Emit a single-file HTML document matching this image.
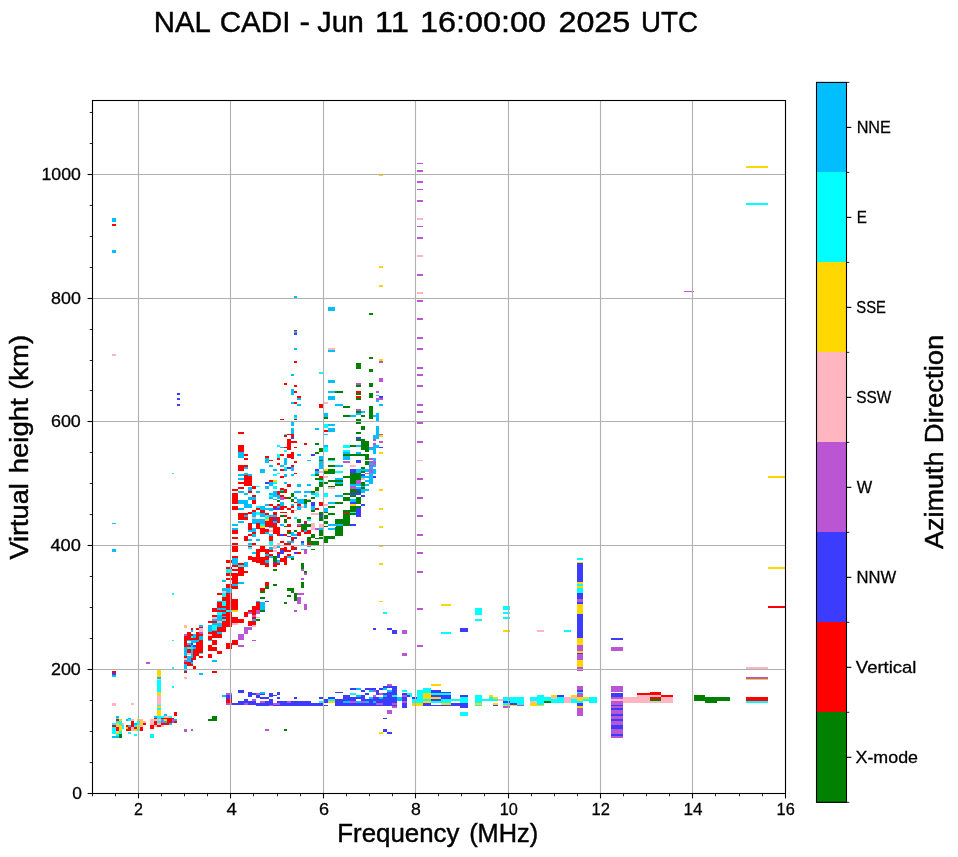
<!DOCTYPE html><html><head><meta charset="utf-8"><title>NAL CADI</title><style>html,body{margin:0;padding:0;background:#fff}svg{display:block}text{font-family:"Liberation Sans",sans-serif;fill:#000}</style></head><body>
<svg width="958" height="857" viewBox="0 0 958 857">
<rect width="958" height="857" fill="#fff"/>
<g shape-rendering="crispEdges">
<rect x="112" y="218" width="4" height="4" fill="#00bfff"/>
<rect x="112" y="224" width="4" height="2" fill="#ff0000"/>
<rect x="112" y="250" width="4" height="3" fill="#00bfff"/>
<rect x="112" y="354" width="4" height="2" fill="#ffb6c1"/>
<rect x="177" y="393" width="3" height="2" fill="#3c3cff"/>
<rect x="177" y="398" width="3" height="2" fill="#3c3cff"/>
<rect x="177" y="404" width="3" height="2" fill="#3c3cff"/>
<rect x="238" y="432" width="6" height="2" fill="#ff0000"/>
<rect x="112" y="523" width="4" height="1" fill="#00bfff"/>
<rect x="112" y="549" width="4" height="3" fill="#00bfff"/>
<rect x="172" y="473" width="2" height="1" fill="#00ffff"/>
<rect x="238" y="432" width="6" height="2" fill="#ff0000"/>
<rect x="238" y="445" width="6" height="7" fill="#ff0000"/>
<rect x="238" y="452" width="6" height="6" fill="#00bfff"/>
<rect x="238" y="465" width="6" height="6" fill="#ff0000"/>
<rect x="238" y="474" width="6" height="2" fill="#00bfff"/>
<rect x="238" y="478" width="6" height="2" fill="#00bfff"/>
<rect x="238" y="482" width="6" height="2" fill="#ff0000"/>
<rect x="238" y="487" width="6" height="2" fill="#ff0000"/>
<rect x="238" y="491" width="6" height="2" fill="#00bfff"/>
<rect x="238" y="500" width="6" height="4" fill="#00bfff"/>
<rect x="238" y="508" width="6" height="2" fill="#00bfff"/>
<rect x="238" y="513" width="6" height="7" fill="#ff0000"/>
<rect x="238" y="521" width="6" height="2" fill="#00bfff"/>
<rect x="232" y="489" width="6" height="2" fill="#ff0000"/>
<rect x="232" y="493" width="6" height="11" fill="#ff0000"/>
<rect x="232" y="506" width="6" height="4" fill="#ff0000"/>
<rect x="232" y="524" width="6" height="2" fill="#00bfff"/>
<rect x="244" y="454" width="4" height="2" fill="#ff0000"/>
<rect x="244" y="458" width="4" height="2" fill="#ff0000"/>
<rect x="244" y="465" width="4" height="2" fill="#ff0000"/>
<rect x="244" y="467" width="4" height="2" fill="#00bfff"/>
<rect x="244" y="473" width="4" height="2" fill="#00bfff"/>
<rect x="244" y="475" width="4" height="11" fill="#ff0000"/>
<rect x="244" y="493" width="4" height="2" fill="#00bfff"/>
<rect x="244" y="500" width="4" height="8" fill="#00bfff"/>
<rect x="244" y="513" width="4" height="2" fill="#ff0000"/>
<rect x="244" y="515" width="4" height="2" fill="#00bfff"/>
<rect x="244" y="517" width="4" height="3" fill="#ff0000"/>
<rect x="248" y="474" width="4" height="2" fill="#00bfff"/>
<rect x="248" y="476" width="4" height="10" fill="#ff0000"/>
<rect x="248" y="487" width="4" height="4" fill="#00bfff"/>
<rect x="248" y="491" width="4" height="2" fill="#ff0000"/>
<rect x="248" y="497" width="4" height="3" fill="#00bfff"/>
<rect x="248" y="504" width="4" height="4" fill="#00bfff"/>
<rect x="248" y="512" width="4" height="2" fill="#ff0000"/>
<rect x="248" y="523" width="4" height="4" fill="#ff0000"/>
<rect x="252" y="486" width="4" height="3" fill="#ff0000"/>
<rect x="252" y="495" width="4" height="2" fill="#ff0000"/>
<rect x="252" y="497" width="4" height="3" fill="#00bfff"/>
<rect x="252" y="500" width="4" height="4" fill="#ff0000"/>
<rect x="252" y="510" width="4" height="2" fill="#ff0000"/>
<rect x="252" y="512" width="4" height="5" fill="#00bfff"/>
<rect x="252" y="517" width="4" height="2" fill="#ffb6c1"/>
<rect x="252" y="519" width="4" height="5" fill="#00bfff"/>
<rect x="256" y="486" width="4" height="1" fill="#00ffff"/>
<rect x="256" y="491" width="4" height="2" fill="#00bfff"/>
<rect x="256" y="506" width="4" height="2" fill="#00ffff"/>
<rect x="256" y="508" width="4" height="2" fill="#ff0000"/>
<rect x="256" y="512" width="4" height="3" fill="#00ffff"/>
<rect x="256" y="519" width="4" height="4" fill="#00bfff"/>
<rect x="256" y="523" width="4" height="4" fill="#ff0000"/>
<rect x="260" y="469" width="5" height="4" fill="#00bfff"/>
<rect x="260" y="506" width="5" height="4" fill="#00bfff"/>
<rect x="260" y="510" width="5" height="3" fill="#ff0000"/>
<rect x="260" y="513" width="5" height="4" fill="#00bfff"/>
<rect x="260" y="519" width="5" height="5" fill="#00bfff"/>
<rect x="260" y="524" width="5" height="2" fill="#00ffff"/>
<rect x="260" y="526" width="5" height="1" fill="#ffd700"/>
<rect x="265" y="456" width="4" height="2" fill="#ff0000"/>
<rect x="265" y="458" width="4" height="5" fill="#00bfff"/>
<rect x="265" y="482" width="4" height="2" fill="#3c3cff"/>
<rect x="265" y="486" width="4" height="3" fill="#00bfff"/>
<rect x="265" y="504" width="4" height="2" fill="#00bfff"/>
<rect x="265" y="508" width="4" height="2" fill="#00bfff"/>
<rect x="265" y="513" width="4" height="2" fill="#ff0000"/>
<rect x="265" y="515" width="4" height="4" fill="#00ffff"/>
<rect x="265" y="519" width="4" height="2" fill="#ffd700"/>
<rect x="265" y="521" width="4" height="6" fill="#ff0000"/>
<rect x="269" y="460" width="4" height="1" fill="#ff0000"/>
<rect x="269" y="465" width="4" height="2" fill="#00bfff"/>
<rect x="269" y="480" width="4" height="2" fill="#ff0000"/>
<rect x="269" y="482" width="4" height="4" fill="#00bfff"/>
<rect x="269" y="493" width="4" height="2" fill="#00bfff"/>
<rect x="269" y="495" width="4" height="2" fill="#00ffff"/>
<rect x="269" y="497" width="4" height="2" fill="#00bfff"/>
<rect x="269" y="504" width="4" height="2" fill="#ff0000"/>
<rect x="269" y="508" width="4" height="3" fill="#00bfff"/>
<rect x="269" y="515" width="4" height="2" fill="#00bfff"/>
<rect x="269" y="517" width="4" height="10" fill="#ff0000"/>
<rect x="273" y="469" width="4" height="2" fill="#00bfff"/>
<rect x="273" y="474" width="4" height="2" fill="#00ffff"/>
<rect x="273" y="480" width="4" height="2" fill="#ffd700"/>
<rect x="273" y="482" width="4" height="2" fill="#00ffff"/>
<rect x="273" y="486" width="4" height="3" fill="#00ffff"/>
<rect x="273" y="491" width="4" height="6" fill="#00bfff"/>
<rect x="273" y="499" width="4" height="1" fill="#00bfff"/>
<rect x="273" y="506" width="4" height="2" fill="#ff0000"/>
<rect x="273" y="508" width="4" height="2" fill="#3c3cff"/>
<rect x="273" y="512" width="4" height="3" fill="#ff0000"/>
<rect x="273" y="515" width="4" height="2" fill="#00bfff"/>
<rect x="273" y="517" width="4" height="2" fill="#ff0000"/>
<rect x="273" y="519" width="4" height="2" fill="#3c3cff"/>
<rect x="273" y="521" width="4" height="2" fill="#00bfff"/>
<rect x="273" y="523" width="4" height="4" fill="#ff0000"/>
<rect x="277" y="445" width="3" height="2" fill="#00ffff"/>
<rect x="277" y="454" width="3" height="4" fill="#00ffff"/>
<rect x="277" y="458" width="3" height="2" fill="#ff0000"/>
<rect x="277" y="463" width="3" height="2" fill="#ff0000"/>
<rect x="277" y="473" width="3" height="1" fill="#00ffff"/>
<rect x="277" y="491" width="3" height="4" fill="#ff0000"/>
<rect x="277" y="495" width="3" height="4" fill="#00bfff"/>
<rect x="277" y="500" width="3" height="2" fill="#008000"/>
<rect x="277" y="504" width="3" height="2" fill="#ff0000"/>
<rect x="277" y="506" width="3" height="2" fill="#00bfff"/>
<rect x="277" y="508" width="3" height="2" fill="#3c3cff"/>
<rect x="277" y="517" width="3" height="6" fill="#ff0000"/>
<rect x="280" y="447" width="4" height="1" fill="#00bfff"/>
<rect x="280" y="454" width="4" height="2" fill="#ff0000"/>
<rect x="280" y="465" width="4" height="2" fill="#00bfff"/>
<rect x="280" y="469" width="4" height="2" fill="#ff0000"/>
<rect x="280" y="476" width="4" height="2" fill="#ff0000"/>
<rect x="280" y="488" width="4" height="2" fill="#ff0000"/>
<rect x="280" y="490" width="4" height="1" fill="#00bfff"/>
<rect x="280" y="491" width="4" height="2" fill="#008000"/>
<rect x="280" y="495" width="4" height="2" fill="#ff0000"/>
<rect x="280" y="497" width="4" height="3" fill="#ba55d3"/>
<rect x="280" y="502" width="4" height="4" fill="#00bfff"/>
<rect x="280" y="506" width="4" height="4" fill="#ff0000"/>
<rect x="280" y="512" width="4" height="1" fill="#ff0000"/>
<rect x="280" y="515" width="4" height="2" fill="#008000"/>
<rect x="280" y="524" width="4" height="2" fill="#00bfff"/>
<rect x="284" y="434" width="3" height="1" fill="#00ffff"/>
<rect x="284" y="435" width="3" height="2" fill="#ff0000"/>
<rect x="284" y="447" width="3" height="1" fill="#ff0000"/>
<rect x="284" y="450" width="3" height="2" fill="#00ffff"/>
<rect x="284" y="458" width="3" height="7" fill="#00bfff"/>
<rect x="284" y="467" width="3" height="2" fill="#00ffff"/>
<rect x="284" y="469" width="3" height="2" fill="#00bfff"/>
<rect x="284" y="474" width="3" height="3" fill="#00bfff"/>
<rect x="284" y="482" width="3" height="2" fill="#00bfff"/>
<rect x="284" y="489" width="3" height="4" fill="#ff0000"/>
<rect x="284" y="497" width="3" height="2" fill="#ff0000"/>
<rect x="284" y="506" width="3" height="2" fill="#ff0000"/>
<rect x="284" y="512" width="3" height="1" fill="#ff0000"/>
<rect x="284" y="515" width="3" height="2" fill="#ff0000"/>
<rect x="284" y="519" width="3" height="4" fill="#008000"/>
<rect x="284" y="526" width="3" height="1" fill="#008000"/>
<rect x="287" y="434" width="4" height="1" fill="#ff0000"/>
<rect x="287" y="439" width="4" height="11" fill="#ff0000"/>
<rect x="287" y="454" width="4" height="4" fill="#ff0000"/>
<rect x="287" y="467" width="4" height="2" fill="#3c3cff"/>
<rect x="287" y="484" width="4" height="3" fill="#ff0000"/>
<rect x="287" y="497" width="4" height="2" fill="#008000"/>
<rect x="287" y="508" width="4" height="2" fill="#ff0000"/>
<rect x="287" y="517" width="4" height="2" fill="#ff0000"/>
<rect x="287" y="524" width="4" height="3" fill="#ff0000"/>
<rect x="291" y="422" width="3" height="4" fill="#00bfff"/>
<rect x="291" y="428" width="3" height="6" fill="#00bfff"/>
<rect x="291" y="434" width="3" height="3" fill="#ff0000"/>
<rect x="291" y="437" width="3" height="2" fill="#3c3cff"/>
<rect x="291" y="441" width="3" height="2" fill="#ff0000"/>
<rect x="291" y="452" width="3" height="7" fill="#ff0000"/>
<rect x="291" y="465" width="3" height="2" fill="#ff0000"/>
<rect x="291" y="467" width="3" height="4" fill="#00bfff"/>
<rect x="291" y="474" width="3" height="2" fill="#00bfff"/>
<rect x="291" y="493" width="3" height="4" fill="#008000"/>
<rect x="291" y="499" width="3" height="3" fill="#008000"/>
<rect x="291" y="504" width="3" height="2" fill="#00bfff"/>
<rect x="291" y="506" width="3" height="2" fill="#ff0000"/>
<rect x="291" y="510" width="3" height="3" fill="#ff0000"/>
<rect x="294" y="441" width="3" height="2" fill="#ff0000"/>
<rect x="294" y="447" width="3" height="1" fill="#ff0000"/>
<rect x="294" y="461" width="3" height="2" fill="#ff0000"/>
<rect x="294" y="473" width="3" height="1" fill="#ff0000"/>
<rect x="294" y="491" width="3" height="2" fill="#00bfff"/>
<rect x="294" y="497" width="3" height="2" fill="#00bfff"/>
<rect x="294" y="502" width="3" height="1" fill="#ff0000"/>
<rect x="294" y="510" width="3" height="1" fill="#ffb6c1"/>
<rect x="294" y="517" width="3" height="2" fill="#00ffff"/>
<rect x="297" y="454" width="4" height="2" fill="#00bfff"/>
<rect x="297" y="484" width="4" height="3" fill="#00bfff"/>
<rect x="297" y="491" width="4" height="2" fill="#00bfff"/>
<rect x="297" y="499" width="4" height="5" fill="#00bfff"/>
<rect x="297" y="504" width="4" height="2" fill="#ff0000"/>
<rect x="297" y="506" width="4" height="4" fill="#00bfff"/>
<rect x="297" y="519" width="4" height="4" fill="#008000"/>
<rect x="297" y="524" width="4" height="2" fill="#ba55d3"/>
<rect x="297" y="526" width="4" height="1" fill="#ff0000"/>
<rect x="301" y="499" width="3" height="5" fill="#00bfff"/>
<rect x="301" y="506" width="3" height="2" fill="#ffb6c1"/>
<rect x="301" y="524" width="3" height="3" fill="#008000"/>
<rect x="304" y="443" width="3" height="2" fill="#ff0000"/>
<rect x="304" y="491" width="3" height="2" fill="#00bfff"/>
<rect x="304" y="495" width="3" height="2" fill="#00bfff"/>
<rect x="304" y="499" width="3" height="5" fill="#008000"/>
<rect x="304" y="504" width="3" height="4" fill="#00bfff"/>
<rect x="304" y="521" width="3" height="2" fill="#ff0000"/>
<rect x="304" y="523" width="3" height="1" fill="#3c3cff"/>
<rect x="304" y="524" width="3" height="3" fill="#008000"/>
<rect x="307" y="460" width="4" height="1" fill="#00bfff"/>
<rect x="307" y="484" width="4" height="2" fill="#00bfff"/>
<rect x="307" y="491" width="4" height="2" fill="#00bfff"/>
<rect x="307" y="499" width="4" height="1" fill="#ffb6c1"/>
<rect x="307" y="500" width="4" height="2" fill="#008000"/>
<rect x="307" y="517" width="4" height="2" fill="#008000"/>
<rect x="307" y="519" width="4" height="2" fill="#00ffff"/>
<rect x="307" y="524" width="4" height="3" fill="#008000"/>
<rect x="311" y="454" width="4" height="2" fill="#3c3cff"/>
<rect x="311" y="474" width="4" height="2" fill="#00ffff"/>
<rect x="311" y="491" width="4" height="2" fill="#008000"/>
<rect x="311" y="493" width="4" height="2" fill="#00bfff"/>
<rect x="311" y="497" width="4" height="2" fill="#008000"/>
<rect x="311" y="502" width="4" height="4" fill="#3c3cff"/>
<rect x="311" y="506" width="4" height="4" fill="#00bfff"/>
<rect x="311" y="510" width="4" height="2" fill="#008000"/>
<rect x="311" y="513" width="4" height="2" fill="#ffb6c1"/>
<rect x="311" y="523" width="4" height="4" fill="#ffb6c1"/>
<rect x="315" y="428" width="4" height="2" fill="#00bfff"/>
<rect x="315" y="443" width="4" height="2" fill="#008000"/>
<rect x="315" y="452" width="4" height="2" fill="#008000"/>
<rect x="315" y="469" width="4" height="2" fill="#3c3cff"/>
<rect x="315" y="471" width="4" height="3" fill="#00bfff"/>
<rect x="315" y="474" width="4" height="2" fill="#008000"/>
<rect x="315" y="478" width="4" height="2" fill="#008000"/>
<rect x="315" y="487" width="4" height="4" fill="#008000"/>
<rect x="315" y="491" width="4" height="2" fill="#ffb6c1"/>
<rect x="315" y="493" width="4" height="4" fill="#00ffff"/>
<rect x="315" y="508" width="4" height="2" fill="#ff0000"/>
<rect x="315" y="513" width="4" height="2" fill="#ffb6c1"/>
<rect x="319" y="448" width="4" height="4" fill="#008000"/>
<rect x="319" y="456" width="4" height="4" fill="#00bfff"/>
<rect x="319" y="460" width="4" height="1" fill="#008000"/>
<rect x="319" y="461" width="4" height="8" fill="#00bfff"/>
<rect x="319" y="471" width="4" height="2" fill="#ffb6c1"/>
<rect x="319" y="476" width="4" height="2" fill="#ff0000"/>
<rect x="319" y="478" width="4" height="2" fill="#008000"/>
<rect x="319" y="480" width="4" height="2" fill="#00ffff"/>
<rect x="319" y="482" width="4" height="5" fill="#008000"/>
<rect x="319" y="502" width="4" height="4" fill="#ff0000"/>
<rect x="319" y="512" width="4" height="3" fill="#008000"/>
<rect x="319" y="515" width="4" height="2" fill="#3c3cff"/>
<rect x="319" y="517" width="4" height="4" fill="#008000"/>
<rect x="319" y="524" width="4" height="3" fill="#ffb6c1"/>
<rect x="323" y="424" width="5" height="4" fill="#00ffff"/>
<rect x="323" y="430" width="5" height="2" fill="#ff0000"/>
<rect x="323" y="434" width="5" height="1" fill="#00bfff"/>
<rect x="323" y="445" width="5" height="2" fill="#00bfff"/>
<rect x="323" y="447" width="5" height="5" fill="#00ffff"/>
<rect x="323" y="469" width="5" height="2" fill="#ffd700"/>
<rect x="323" y="471" width="5" height="3" fill="#008000"/>
<rect x="323" y="476" width="5" height="2" fill="#ffb6c1"/>
<rect x="323" y="482" width="5" height="2" fill="#008000"/>
<rect x="323" y="493" width="5" height="4" fill="#00ffff"/>
<rect x="323" y="504" width="5" height="2" fill="#ffb6c1"/>
<rect x="323" y="508" width="5" height="4" fill="#00bfff"/>
<rect x="323" y="512" width="5" height="1" fill="#008000"/>
<rect x="323" y="515" width="5" height="4" fill="#008000"/>
<rect x="323" y="521" width="5" height="3" fill="#008000"/>
<rect x="323" y="526" width="5" height="1" fill="#008000"/>
<rect x="328" y="424" width="7" height="2" fill="#00bfff"/>
<rect x="328" y="428" width="7" height="4" fill="#00bfff"/>
<rect x="328" y="458" width="7" height="2" fill="#008000"/>
<rect x="328" y="460" width="7" height="1" fill="#00ffff"/>
<rect x="328" y="465" width="7" height="2" fill="#008000"/>
<rect x="328" y="469" width="7" height="5" fill="#008000"/>
<rect x="328" y="480" width="7" height="2" fill="#008000"/>
<rect x="328" y="486" width="7" height="1" fill="#008000"/>
<rect x="328" y="487" width="7" height="2" fill="#ffb6c1"/>
<rect x="328" y="502" width="7" height="2" fill="#00bfff"/>
<rect x="328" y="506" width="7" height="2" fill="#008000"/>
<rect x="328" y="513" width="7" height="2" fill="#008000"/>
<rect x="328" y="524" width="7" height="2" fill="#00bfff"/>
<rect x="335" y="465" width="7" height="2" fill="#00bfff"/>
<rect x="335" y="471" width="7" height="2" fill="#00ffff"/>
<rect x="335" y="478" width="7" height="2" fill="#00bfff"/>
<rect x="335" y="480" width="7" height="2" fill="#008000"/>
<rect x="335" y="482" width="7" height="2" fill="#00bfff"/>
<rect x="335" y="484" width="7" height="2" fill="#008000"/>
<rect x="335" y="495" width="7" height="2" fill="#00bfff"/>
<rect x="335" y="502" width="7" height="2" fill="#008000"/>
<rect x="335" y="519" width="7" height="5" fill="#008000"/>
<rect x="335" y="524" width="7" height="2" fill="#00bfff"/>
<rect x="294" y="330" width="3" height="1" fill="#ff0000"/>
<rect x="294" y="331" width="3" height="2" fill="#00bfff"/>
<rect x="294" y="333" width="3" height="2" fill="#3c3cff"/>
<rect x="294" y="348" width="3" height="2" fill="#00bfff"/>
<rect x="294" y="361" width="3" height="2" fill="#ff0000"/>
<rect x="291" y="374" width="3" height="2" fill="#00bfff"/>
<rect x="284" y="383" width="3" height="2" fill="#ff0000"/>
<rect x="294" y="385" width="3" height="2" fill="#ff0000"/>
<rect x="291" y="389" width="3" height="6" fill="#00bfff"/>
<rect x="294" y="391" width="3" height="2" fill="#ff0000"/>
<rect x="297" y="396" width="4" height="2" fill="#ff0000"/>
<rect x="297" y="398" width="4" height="2" fill="#00bfff"/>
<rect x="291" y="402" width="3" height="2" fill="#00bfff"/>
<rect x="294" y="402" width="3" height="2" fill="#ff0000"/>
<rect x="297" y="404" width="4" height="2" fill="#00bfff"/>
<rect x="294" y="415" width="3" height="2" fill="#00bfff"/>
<rect x="294" y="417" width="3" height="2" fill="#00ffff"/>
<rect x="294" y="419" width="3" height="1" fill="#ff0000"/>
<rect x="280" y="419" width="4" height="1" fill="#ff0000"/>
<rect x="319" y="372" width="4" height="2" fill="#00ffff"/>
<rect x="319" y="404" width="4" height="4" fill="#ff0000"/>
<rect x="323" y="402" width="5" height="2" fill="#ffb6c1"/>
<rect x="323" y="413" width="5" height="4" fill="#00bfff"/>
<rect x="323" y="417" width="5" height="2" fill="#008000"/>
<rect x="328" y="348" width="7" height="2" fill="#ffb6c1"/>
<rect x="328" y="350" width="7" height="2" fill="#00bfff"/>
<rect x="328" y="380" width="7" height="3" fill="#00bfff"/>
<rect x="328" y="391" width="7" height="2" fill="#00bfff"/>
<rect x="335" y="391" width="7" height="2" fill="#008000"/>
<rect x="328" y="396" width="7" height="4" fill="#00bfff"/>
<rect x="335" y="404" width="7" height="2" fill="#00bfff"/>
<rect x="379" y="175" width="4" height="1" fill="#ffd700"/>
<rect x="379" y="266" width="4" height="2" fill="#ffd700"/>
<rect x="379" y="285" width="4" height="2" fill="#ffd700"/>
<rect x="294" y="296" width="3" height="2" fill="#00bfff"/>
<rect x="328" y="307" width="7" height="4" fill="#00bfff"/>
<rect x="369" y="313" width="4" height="2" fill="#008000"/>
<rect x="369" y="357" width="4" height="2" fill="#008000"/>
<rect x="379" y="359" width="4" height="2" fill="#ffd700"/>
<rect x="379" y="361" width="4" height="2" fill="#ba55d3"/>
<rect x="356" y="363" width="5" height="6" fill="#008000"/>
<rect x="369" y="369" width="4" height="3" fill="#008000"/>
<rect x="379" y="378" width="4" height="4" fill="#ba55d3"/>
<rect x="356" y="383" width="5" height="2" fill="#ba55d3"/>
<rect x="356" y="385" width="5" height="2" fill="#008000"/>
<rect x="369" y="383" width="4" height="4" fill="#008000"/>
<rect x="335" y="391" width="8" height="2" fill="#008000"/>
<rect x="356" y="391" width="5" height="2" fill="#ff0000"/>
<rect x="376" y="391" width="3" height="2" fill="#ba55d3"/>
<rect x="336" y="391" width="7" height="2" fill="#008000"/>
<rect x="336" y="404" width="7" height="2" fill="#00bfff"/>
<rect x="336" y="465" width="7" height="2" fill="#00bfff"/>
<rect x="336" y="471" width="7" height="2" fill="#00ffff"/>
<rect x="336" y="478" width="7" height="2" fill="#00bfff"/>
<rect x="336" y="480" width="7" height="2" fill="#008000"/>
<rect x="336" y="482" width="7" height="2" fill="#00bfff"/>
<rect x="336" y="484" width="7" height="2" fill="#008000"/>
<rect x="336" y="495" width="7" height="2" fill="#00bfff"/>
<rect x="343" y="406" width="7" height="2" fill="#008000"/>
<rect x="343" y="415" width="7" height="2" fill="#008000"/>
<rect x="343" y="445" width="7" height="3" fill="#00ffff"/>
<rect x="343" y="450" width="7" height="2" fill="#00ffff"/>
<rect x="343" y="452" width="7" height="2" fill="#00bfff"/>
<rect x="343" y="454" width="7" height="2" fill="#008000"/>
<rect x="343" y="456" width="7" height="4" fill="#00bfff"/>
<rect x="343" y="461" width="7" height="2" fill="#ba55d3"/>
<rect x="343" y="476" width="7" height="2" fill="#008000"/>
<rect x="343" y="493" width="7" height="2" fill="#008000"/>
<rect x="350" y="415" width="6" height="2" fill="#00bfff"/>
<rect x="350" y="445" width="6" height="2" fill="#008000"/>
<rect x="350" y="454" width="6" height="2" fill="#008000"/>
<rect x="350" y="465" width="6" height="2" fill="#ffb6c1"/>
<rect x="350" y="469" width="6" height="4" fill="#3c3cff"/>
<rect x="350" y="473" width="6" height="11" fill="#008000"/>
<rect x="350" y="484" width="6" height="2" fill="#00bfff"/>
<rect x="350" y="486" width="6" height="3" fill="#ba55d3"/>
<rect x="350" y="489" width="6" height="4" fill="#008000"/>
<rect x="350" y="493" width="6" height="2" fill="#3c3cff"/>
<rect x="350" y="495" width="6" height="2" fill="#008000"/>
<rect x="356" y="391" width="5" height="2" fill="#ff0000"/>
<rect x="356" y="393" width="5" height="2" fill="#008000"/>
<rect x="356" y="396" width="5" height="2" fill="#ff0000"/>
<rect x="356" y="398" width="5" height="2" fill="#008000"/>
<rect x="356" y="409" width="5" height="2" fill="#ba55d3"/>
<rect x="356" y="411" width="5" height="2" fill="#008000"/>
<rect x="356" y="413" width="5" height="2" fill="#00bfff"/>
<rect x="356" y="419" width="5" height="5" fill="#008000"/>
<rect x="356" y="432" width="5" height="2" fill="#008000"/>
<rect x="356" y="437" width="5" height="2" fill="#3c3cff"/>
<rect x="356" y="439" width="5" height="2" fill="#008000"/>
<rect x="356" y="445" width="5" height="2" fill="#00bfff"/>
<rect x="356" y="452" width="5" height="2" fill="#00bfff"/>
<rect x="356" y="454" width="5" height="2" fill="#008000"/>
<rect x="356" y="460" width="5" height="3" fill="#3c3cff"/>
<rect x="356" y="469" width="5" height="4" fill="#00bfff"/>
<rect x="356" y="473" width="5" height="7" fill="#008000"/>
<rect x="356" y="480" width="5" height="4" fill="#ba55d3"/>
<rect x="356" y="484" width="5" height="2" fill="#00bfff"/>
<rect x="356" y="487" width="5" height="2" fill="#00bfff"/>
<rect x="356" y="489" width="5" height="2" fill="#3c3cff"/>
<rect x="356" y="491" width="5" height="2" fill="#008000"/>
<rect x="356" y="493" width="5" height="2" fill="#3c3cff"/>
<rect x="361" y="411" width="4" height="2" fill="#00bfff"/>
<rect x="361" y="415" width="4" height="2" fill="#008000"/>
<rect x="361" y="426" width="4" height="4" fill="#008000"/>
<rect x="361" y="439" width="4" height="11" fill="#008000"/>
<rect x="361" y="454" width="4" height="2" fill="#008000"/>
<rect x="361" y="467" width="4" height="2" fill="#008000"/>
<rect x="361" y="469" width="4" height="2" fill="#00bfff"/>
<rect x="361" y="471" width="4" height="2" fill="#008000"/>
<rect x="361" y="474" width="4" height="2" fill="#3c3cff"/>
<rect x="361" y="476" width="4" height="2" fill="#00bfff"/>
<rect x="361" y="478" width="4" height="2" fill="#ffb6c1"/>
<rect x="361" y="482" width="4" height="4" fill="#008000"/>
<rect x="361" y="486" width="4" height="1" fill="#00bfff"/>
<rect x="361" y="487" width="4" height="2" fill="#008000"/>
<rect x="361" y="489" width="4" height="4" fill="#00bfff"/>
<rect x="361" y="495" width="4" height="2" fill="#3c3cff"/>
<rect x="365" y="441" width="4" height="11" fill="#008000"/>
<rect x="365" y="454" width="4" height="6" fill="#008000"/>
<rect x="365" y="461" width="4" height="4" fill="#008000"/>
<rect x="365" y="469" width="4" height="3" fill="#00bfff"/>
<rect x="365" y="473" width="4" height="1" fill="#ba55d3"/>
<rect x="365" y="476" width="4" height="2" fill="#00bfff"/>
<rect x="365" y="480" width="4" height="2" fill="#00bfff"/>
<rect x="365" y="484" width="4" height="2" fill="#00bfff"/>
<rect x="365" y="489" width="4" height="2" fill="#00bfff"/>
<rect x="369" y="393" width="4" height="5" fill="#008000"/>
<rect x="369" y="406" width="4" height="13" fill="#008000"/>
<rect x="369" y="447" width="4" height="3" fill="#00bfff"/>
<rect x="369" y="447" width="4" height="1" fill="#ba55d3"/>
<rect x="369" y="458" width="4" height="2" fill="#ba55d3"/>
<rect x="369" y="461" width="4" height="2" fill="#ba55d3"/>
<rect x="369" y="463" width="4" height="2" fill="#00bfff"/>
<rect x="369" y="465" width="4" height="2" fill="#ba55d3"/>
<rect x="369" y="467" width="4" height="2" fill="#00bfff"/>
<rect x="369" y="469" width="4" height="4" fill="#ba55d3"/>
<rect x="369" y="473" width="4" height="11" fill="#00bfff"/>
<rect x="373" y="415" width="3" height="2" fill="#00bfff"/>
<rect x="373" y="435" width="3" height="4" fill="#00bfff"/>
<rect x="373" y="439" width="3" height="2" fill="#ba55d3"/>
<rect x="373" y="443" width="3" height="2" fill="#ba55d3"/>
<rect x="373" y="445" width="3" height="9" fill="#00bfff"/>
<rect x="373" y="458" width="3" height="3" fill="#00bfff"/>
<rect x="373" y="461" width="3" height="4" fill="#ba55d3"/>
<rect x="373" y="465" width="3" height="2" fill="#00bfff"/>
<rect x="373" y="469" width="3" height="5" fill="#00bfff"/>
<rect x="373" y="476" width="3" height="2" fill="#3c3cff"/>
<rect x="376" y="391" width="3" height="2" fill="#ba55d3"/>
<rect x="376" y="395" width="3" height="1" fill="#00bfff"/>
<rect x="376" y="398" width="3" height="2" fill="#ba55d3"/>
<rect x="376" y="400" width="3" height="2" fill="#00bfff"/>
<rect x="376" y="413" width="3" height="8" fill="#00bfff"/>
<rect x="376" y="426" width="3" height="13" fill="#00bfff"/>
<rect x="376" y="445" width="3" height="3" fill="#00bfff"/>
<rect x="379" y="396" width="4" height="2" fill="#3c3cff"/>
<rect x="379" y="398" width="4" height="2" fill="#ba55d3"/>
<rect x="379" y="404" width="4" height="2" fill="#00bfff"/>
<rect x="379" y="434" width="4" height="1" fill="#ba55d3"/>
<rect x="379" y="435" width="4" height="2" fill="#ffd700"/>
<rect x="379" y="441" width="4" height="2" fill="#ba55d3"/>
<rect x="379" y="447" width="4" height="1" fill="#3c3cff"/>
<rect x="379" y="452" width="4" height="2" fill="#ffd700"/>
<rect x="379" y="489" width="4" height="2" fill="#ffd700"/>
<rect x="417" y="404" width="6" height="2" fill="#ba55d3"/>
<rect x="417" y="411" width="6" height="2" fill="#ba55d3"/>
<rect x="417" y="422" width="6" height="2" fill="#ba55d3"/>
<rect x="417" y="441" width="6" height="2" fill="#ba55d3"/>
<rect x="417" y="460" width="6" height="1" fill="#ffb6c1"/>
<rect x="417" y="478" width="6" height="2" fill="#ba55d3"/>
<rect x="343" y="497" width="7" height="4" fill="#008000"/>
<rect x="336" y="502" width="7" height="2" fill="#008000"/>
<rect x="350" y="499" width="6" height="3" fill="#00bfff"/>
<rect x="350" y="502" width="6" height="2" fill="#3c3cff"/>
<rect x="356" y="497" width="5" height="7" fill="#008000"/>
<rect x="350" y="504" width="6" height="2" fill="#ffd700"/>
<rect x="361" y="504" width="4" height="2" fill="#3c3cff"/>
<rect x="350" y="506" width="6" height="9" fill="#008000"/>
<rect x="356" y="506" width="5" height="2" fill="#008000"/>
<rect x="356" y="508" width="5" height="9" fill="#3c3cff"/>
<rect x="343" y="510" width="7" height="16" fill="#008000"/>
<rect x="343" y="512" width="7" height="1" fill="#ff0000"/>
<rect x="350" y="512" width="6" height="1" fill="#00ffff"/>
<rect x="336" y="519" width="7" height="5" fill="#008000"/>
<rect x="336" y="524" width="7" height="2" fill="#00bfff"/>
<rect x="336" y="526" width="7" height="10" fill="#008000"/>
<rect x="350" y="524" width="6" height="2" fill="#3c3cff"/>
<rect x="379" y="508" width="4" height="2" fill="#ffd700"/>
<rect x="379" y="526" width="4" height="2" fill="#ffd700"/>
<rect x="379" y="546" width="4" height="1" fill="#ffd700"/>
<rect x="379" y="563" width="4" height="2" fill="#ffd700"/>
<rect x="379" y="601" width="4" height="1" fill="#ffd700"/>
<rect x="417" y="497" width="6" height="2" fill="#ba55d3"/>
<rect x="417" y="515" width="6" height="2" fill="#ba55d3"/>
<rect x="417" y="534" width="6" height="2" fill="#ba55d3"/>
<rect x="417" y="552" width="6" height="2" fill="#ba55d3"/>
<rect x="417" y="571" width="6" height="2" fill="#ba55d3"/>
<rect x="222" y="580" width="4" height="2" fill="#00bfff"/>
<rect x="222" y="588" width="4" height="3" fill="#00bfff"/>
<rect x="222" y="591" width="4" height="2" fill="#ffb6c1"/>
<rect x="222" y="593" width="4" height="4" fill="#00ffff"/>
<rect x="222" y="597" width="4" height="4" fill="#ff0000"/>
<rect x="222" y="601" width="4" height="5" fill="#00ffff"/>
<rect x="222" y="606" width="4" height="2" fill="#ff0000"/>
<rect x="222" y="608" width="4" height="2" fill="#00bfff"/>
<rect x="222" y="610" width="4" height="2" fill="#ff0000"/>
<rect x="222" y="612" width="4" height="2" fill="#00bfff"/>
<rect x="222" y="614" width="4" height="2" fill="#ff0000"/>
<rect x="222" y="616" width="4" height="1" fill="#00bfff"/>
<rect x="222" y="617" width="4" height="2" fill="#ff0000"/>
<rect x="222" y="619" width="4" height="2" fill="#00ffff"/>
<rect x="222" y="621" width="4" height="11" fill="#ff0000"/>
<rect x="226" y="560" width="6" height="3" fill="#ff0000"/>
<rect x="226" y="567" width="6" height="2" fill="#ff0000"/>
<rect x="226" y="569" width="6" height="4" fill="#00ffff"/>
<rect x="226" y="573" width="6" height="3" fill="#ff0000"/>
<rect x="226" y="578" width="6" height="2" fill="#ff0000"/>
<rect x="226" y="584" width="6" height="4" fill="#ff0000"/>
<rect x="226" y="588" width="6" height="5" fill="#00bfff"/>
<rect x="226" y="593" width="6" height="17" fill="#ff0000"/>
<rect x="226" y="610" width="6" height="2" fill="#00ffff"/>
<rect x="226" y="612" width="6" height="15" fill="#ff0000"/>
<rect x="232" y="528" width="6" height="2" fill="#00bfff"/>
<rect x="232" y="530" width="6" height="4" fill="#ff0000"/>
<rect x="232" y="537" width="6" height="2" fill="#ff0000"/>
<rect x="232" y="543" width="6" height="2" fill="#ff0000"/>
<rect x="232" y="546" width="6" height="6" fill="#ff0000"/>
<rect x="232" y="556" width="6" height="2" fill="#ff0000"/>
<rect x="232" y="558" width="6" height="7" fill="#00bfff"/>
<rect x="232" y="565" width="6" height="2" fill="#ff0000"/>
<rect x="232" y="569" width="6" height="2" fill="#ff0000"/>
<rect x="232" y="573" width="6" height="11" fill="#ff0000"/>
<rect x="232" y="584" width="6" height="2" fill="#00bfff"/>
<rect x="232" y="586" width="6" height="3" fill="#ff0000"/>
<rect x="232" y="599" width="6" height="11" fill="#ff0000"/>
<rect x="232" y="610" width="6" height="2" fill="#ffd700"/>
<rect x="232" y="617" width="6" height="6" fill="#ff0000"/>
<rect x="232" y="623" width="6" height="2" fill="#ffb6c1"/>
<rect x="238" y="563" width="6" height="2" fill="#ff0000"/>
<rect x="238" y="565" width="6" height="2" fill="#00ffff"/>
<rect x="238" y="567" width="6" height="9" fill="#ff0000"/>
<rect x="238" y="582" width="6" height="2" fill="#00bfff"/>
<rect x="238" y="619" width="6" height="4" fill="#ff0000"/>
<rect x="244" y="536" width="4" height="5" fill="#ff0000"/>
<rect x="244" y="562" width="4" height="5" fill="#00bfff"/>
<rect x="244" y="571" width="4" height="2" fill="#ff0000"/>
<rect x="244" y="612" width="4" height="5" fill="#ff0000"/>
<rect x="244" y="627" width="4" height="7" fill="#ba55d3"/>
<rect x="248" y="527" width="4" height="3" fill="#ff0000"/>
<rect x="248" y="530" width="4" height="2" fill="#00bfff"/>
<rect x="248" y="534" width="4" height="2" fill="#ff0000"/>
<rect x="248" y="539" width="4" height="2" fill="#00bfff"/>
<rect x="248" y="543" width="4" height="2" fill="#00bfff"/>
<rect x="248" y="545" width="4" height="2" fill="#ff0000"/>
<rect x="248" y="547" width="4" height="2" fill="#00ffff"/>
<rect x="248" y="556" width="4" height="4" fill="#ff0000"/>
<rect x="248" y="610" width="4" height="2" fill="#ff0000"/>
<rect x="248" y="612" width="4" height="2" fill="#ba55d3"/>
<rect x="248" y="621" width="4" height="5" fill="#ff0000"/>
<rect x="248" y="627" width="4" height="3" fill="#ba55d3"/>
<rect x="252" y="528" width="4" height="4" fill="#00bfff"/>
<rect x="252" y="532" width="4" height="2" fill="#ff0000"/>
<rect x="252" y="534" width="4" height="3" fill="#00bfff"/>
<rect x="252" y="543" width="4" height="2" fill="#ff0000"/>
<rect x="252" y="552" width="4" height="2" fill="#00bfff"/>
<rect x="252" y="557" width="4" height="5" fill="#ff0000"/>
<rect x="252" y="606" width="4" height="9" fill="#ff0000"/>
<rect x="252" y="615" width="4" height="2" fill="#ba55d3"/>
<rect x="252" y="617" width="4" height="2" fill="#ff0000"/>
<rect x="252" y="619" width="4" height="2" fill="#00bfff"/>
<rect x="252" y="621" width="4" height="6" fill="#ff0000"/>
<rect x="252" y="625" width="4" height="2" fill="#ffb6c1"/>
<rect x="256" y="527" width="4" height="2" fill="#ff0000"/>
<rect x="256" y="539" width="4" height="2" fill="#00bfff"/>
<rect x="256" y="549" width="4" height="14" fill="#ff0000"/>
<rect x="256" y="601" width="4" height="1" fill="#00bfff"/>
<rect x="256" y="602" width="4" height="8" fill="#ff0000"/>
<rect x="256" y="610" width="4" height="4" fill="#ba55d3"/>
<rect x="256" y="617" width="4" height="1" fill="#ffb6c1"/>
<rect x="256" y="619" width="4" height="2" fill="#008000"/>
<rect x="260" y="527" width="5" height="1" fill="#ffd700"/>
<rect x="260" y="528" width="5" height="6" fill="#ff0000"/>
<rect x="260" y="546" width="5" height="6" fill="#ff0000"/>
<rect x="260" y="557" width="5" height="8" fill="#ff0000"/>
<rect x="260" y="588" width="5" height="3" fill="#ff0000"/>
<rect x="260" y="591" width="5" height="2" fill="#008000"/>
<rect x="260" y="597" width="5" height="2" fill="#008000"/>
<rect x="260" y="602" width="5" height="8" fill="#00bfff"/>
<rect x="260" y="610" width="5" height="2" fill="#008000"/>
<rect x="265" y="529" width="4" height="3" fill="#ff0000"/>
<rect x="265" y="532" width="4" height="2" fill="#00bfff"/>
<rect x="265" y="549" width="4" height="5" fill="#ff0000"/>
<rect x="265" y="554" width="4" height="2" fill="#00bfff"/>
<rect x="265" y="556" width="4" height="4" fill="#ff0000"/>
<rect x="265" y="560" width="4" height="3" fill="#00bfff"/>
<rect x="265" y="563" width="4" height="4" fill="#ff0000"/>
<rect x="265" y="582" width="4" height="4" fill="#ff0000"/>
<rect x="265" y="586" width="4" height="3" fill="#008000"/>
<rect x="265" y="601" width="4" height="1" fill="#3c3cff"/>
<rect x="269" y="527" width="4" height="1" fill="#00bfff"/>
<rect x="269" y="530" width="4" height="2" fill="#ffb6c1"/>
<rect x="269" y="534" width="4" height="2" fill="#00bfff"/>
<rect x="269" y="536" width="4" height="5" fill="#ff0000"/>
<rect x="269" y="541" width="4" height="4" fill="#00ffff"/>
<rect x="269" y="547" width="4" height="3" fill="#00bfff"/>
<rect x="269" y="550" width="4" height="2" fill="#ff0000"/>
<rect x="269" y="554" width="4" height="2" fill="#ff0000"/>
<rect x="269" y="556" width="4" height="2" fill="#00bfff"/>
<rect x="273" y="527" width="4" height="7" fill="#ff0000"/>
<rect x="273" y="546" width="4" height="3" fill="#ffb6c1"/>
<rect x="273" y="550" width="4" height="2" fill="#ffb6c1"/>
<rect x="273" y="556" width="4" height="6" fill="#008000"/>
<rect x="273" y="562" width="4" height="1" fill="#3c3cff"/>
<rect x="273" y="563" width="4" height="4" fill="#ff0000"/>
<rect x="273" y="569" width="4" height="2" fill="#008000"/>
<rect x="273" y="584" width="4" height="2" fill="#008000"/>
<rect x="277" y="527" width="3" height="9" fill="#ff0000"/>
<rect x="277" y="543" width="3" height="2" fill="#ffb6c1"/>
<rect x="277" y="546" width="3" height="2" fill="#00bfff"/>
<rect x="277" y="552" width="3" height="2" fill="#ff0000"/>
<rect x="277" y="554" width="3" height="4" fill="#3c3cff"/>
<rect x="277" y="560" width="3" height="3" fill="#00bfff"/>
<rect x="277" y="563" width="3" height="2" fill="#ff0000"/>
<rect x="280" y="534" width="4" height="2" fill="#3c3cff"/>
<rect x="280" y="541" width="4" height="2" fill="#ff0000"/>
<rect x="280" y="548" width="4" height="2" fill="#ff0000"/>
<rect x="280" y="550" width="4" height="4" fill="#3c3cff"/>
<rect x="280" y="558" width="4" height="4" fill="#ff0000"/>
<rect x="284" y="534" width="3" height="2" fill="#ff0000"/>
<rect x="284" y="543" width="3" height="2" fill="#ff0000"/>
<rect x="284" y="547" width="3" height="5" fill="#ff0000"/>
<rect x="284" y="556" width="3" height="9" fill="#ff0000"/>
<rect x="284" y="602" width="3" height="2" fill="#008000"/>
<rect x="287" y="530" width="4" height="2" fill="#ff0000"/>
<rect x="287" y="532" width="4" height="2" fill="#008000"/>
<rect x="287" y="536" width="4" height="1" fill="#3c3cff"/>
<rect x="287" y="541" width="4" height="2" fill="#00bfff"/>
<rect x="287" y="543" width="4" height="2" fill="#ff0000"/>
<rect x="287" y="550" width="4" height="2" fill="#ff0000"/>
<rect x="287" y="554" width="4" height="2" fill="#ff0000"/>
<rect x="287" y="556" width="4" height="2" fill="#00bfff"/>
<rect x="287" y="588" width="4" height="3" fill="#008000"/>
<rect x="287" y="595" width="4" height="2" fill="#008000"/>
<rect x="291" y="532" width="3" height="4" fill="#00bfff"/>
<rect x="291" y="537" width="3" height="4" fill="#ff0000"/>
<rect x="291" y="541" width="3" height="2" fill="#00bfff"/>
<rect x="291" y="546" width="3" height="4" fill="#ff0000"/>
<rect x="291" y="556" width="3" height="2" fill="#00bfff"/>
<rect x="291" y="558" width="3" height="2" fill="#008000"/>
<rect x="291" y="588" width="3" height="5" fill="#008000"/>
<rect x="294" y="530" width="3" height="2" fill="#008000"/>
<rect x="294" y="534" width="3" height="2" fill="#00bfff"/>
<rect x="294" y="537" width="3" height="2" fill="#3c3cff"/>
<rect x="294" y="547" width="3" height="2" fill="#ff0000"/>
<rect x="294" y="549" width="3" height="1" fill="#3c3cff"/>
<rect x="294" y="552" width="3" height="2" fill="#3c3cff"/>
<rect x="294" y="593" width="3" height="8" fill="#008000"/>
<rect x="294" y="610" width="3" height="2" fill="#ba55d3"/>
<rect x="297" y="532" width="4" height="4" fill="#ff0000"/>
<rect x="297" y="552" width="4" height="2" fill="#ff0000"/>
<rect x="297" y="593" width="4" height="2" fill="#ba55d3"/>
<rect x="297" y="597" width="4" height="7" fill="#ba55d3"/>
<rect x="301" y="527" width="3" height="3" fill="#008000"/>
<rect x="301" y="530" width="3" height="2" fill="#ff0000"/>
<rect x="301" y="541" width="3" height="2" fill="#3c3cff"/>
<rect x="301" y="543" width="3" height="2" fill="#00bfff"/>
<rect x="301" y="549" width="3" height="1" fill="#00bfff"/>
<rect x="301" y="563" width="3" height="6" fill="#008000"/>
<rect x="301" y="569" width="3" height="2" fill="#ba55d3"/>
<rect x="301" y="578" width="3" height="2" fill="#ba55d3"/>
<rect x="301" y="582" width="3" height="6" fill="#008000"/>
<rect x="301" y="593" width="3" height="2" fill="#ba55d3"/>
<rect x="304" y="527" width="3" height="3" fill="#008000"/>
<rect x="304" y="530" width="3" height="2" fill="#00bfff"/>
<rect x="304" y="532" width="3" height="2" fill="#ff0000"/>
<rect x="304" y="549" width="3" height="5" fill="#ba55d3"/>
<rect x="304" y="571" width="3" height="2" fill="#008000"/>
<rect x="304" y="573" width="3" height="2" fill="#ba55d3"/>
<rect x="304" y="604" width="3" height="6" fill="#ba55d3"/>
<rect x="307" y="530" width="4" height="4" fill="#ff0000"/>
<rect x="307" y="537" width="4" height="6" fill="#008000"/>
<rect x="307" y="543" width="4" height="2" fill="#ff0000"/>
<rect x="307" y="546" width="4" height="1" fill="#00bfff"/>
<rect x="311" y="527" width="4" height="3" fill="#ffb6c1"/>
<rect x="311" y="534" width="4" height="4" fill="#008000"/>
<rect x="311" y="541" width="4" height="4" fill="#008000"/>
<rect x="311" y="549" width="4" height="1" fill="#008000"/>
<rect x="315" y="528" width="4" height="2" fill="#ba55d3"/>
<rect x="315" y="538" width="4" height="1" fill="#008000"/>
<rect x="315" y="541" width="4" height="4" fill="#008000"/>
<rect x="319" y="527" width="4" height="1" fill="#ffb6c1"/>
<rect x="319" y="528" width="4" height="2" fill="#00bfff"/>
<rect x="319" y="530" width="4" height="6" fill="#008000"/>
<rect x="319" y="537" width="4" height="2" fill="#008000"/>
<rect x="323" y="536" width="5" height="7" fill="#008000"/>
<rect x="328" y="528" width="7" height="2" fill="#00bfff"/>
<rect x="328" y="536" width="7" height="3" fill="#008000"/>
<rect x="335" y="527" width="7" height="9" fill="#008000"/>
<rect x="172" y="593" width="2" height="2" fill="#00ffff"/>
<rect x="172" y="640" width="2" height="1" fill="#00ffff"/>
<rect x="172" y="667" width="2" height="2" fill="#00ffff"/>
<rect x="172" y="686" width="2" height="2" fill="#00ffff"/>
<rect x="157" y="670" width="4" height="7" fill="#ffd700"/>
<rect x="157" y="677" width="4" height="2" fill="#00bfff"/>
<rect x="157" y="679" width="4" height="1" fill="#ffb6c1"/>
<rect x="157" y="680" width="4" height="12" fill="#00ffff"/>
<rect x="157" y="692" width="4" height="3" fill="#ffd700"/>
<rect x="157" y="695" width="4" height="2" fill="#ffb6c1"/>
<rect x="184" y="625" width="3" height="2" fill="#ffb6c1"/>
<rect x="184" y="627" width="3" height="1" fill="#ffd700"/>
<rect x="184" y="634" width="3" height="2" fill="#ba55d3"/>
<rect x="184" y="636" width="3" height="11" fill="#ff0000"/>
<rect x="184" y="647" width="3" height="9" fill="#00bfff"/>
<rect x="184" y="656" width="3" height="2" fill="#ff0000"/>
<rect x="184" y="658" width="3" height="2" fill="#ffb6c1"/>
<rect x="184" y="660" width="3" height="2" fill="#ba55d3"/>
<rect x="184" y="662" width="3" height="2" fill="#ff0000"/>
<rect x="184" y="664" width="3" height="7" fill="#00bfff"/>
<rect x="184" y="671" width="3" height="2" fill="#ff0000"/>
<rect x="184" y="677" width="3" height="2" fill="#ffb6c1"/>
<rect x="187" y="632" width="4" height="8" fill="#ff0000"/>
<rect x="187" y="640" width="4" height="1" fill="#00bfff"/>
<rect x="187" y="643" width="4" height="2" fill="#00bfff"/>
<rect x="187" y="645" width="4" height="2" fill="#ff0000"/>
<rect x="187" y="647" width="4" height="2" fill="#00ffff"/>
<rect x="187" y="649" width="4" height="4" fill="#ff0000"/>
<rect x="187" y="653" width="4" height="2" fill="#ffb6c1"/>
<rect x="187" y="656" width="4" height="6" fill="#00bfff"/>
<rect x="187" y="662" width="4" height="4" fill="#ff0000"/>
<rect x="191" y="628" width="2" height="2" fill="#ff0000"/>
<rect x="191" y="630" width="2" height="2" fill="#00bfff"/>
<rect x="191" y="634" width="2" height="2" fill="#ff0000"/>
<rect x="191" y="636" width="2" height="2" fill="#00ffff"/>
<rect x="191" y="638" width="2" height="2" fill="#ff0000"/>
<rect x="191" y="640" width="2" height="3" fill="#00bfff"/>
<rect x="191" y="643" width="2" height="2" fill="#3c3cff"/>
<rect x="191" y="645" width="2" height="2" fill="#00bfff"/>
<rect x="191" y="647" width="2" height="2" fill="#00ffff"/>
<rect x="191" y="649" width="2" height="9" fill="#00bfff"/>
<rect x="191" y="658" width="2" height="2" fill="#ff0000"/>
<rect x="191" y="660" width="2" height="2" fill="#3c3cff"/>
<rect x="191" y="662" width="2" height="2" fill="#00bfff"/>
<rect x="191" y="664" width="2" height="2" fill="#ff0000"/>
<rect x="193" y="634" width="3" height="4" fill="#00bfff"/>
<rect x="193" y="638" width="3" height="2" fill="#ff0000"/>
<rect x="193" y="640" width="3" height="3" fill="#00bfff"/>
<rect x="193" y="645" width="3" height="2" fill="#3c3cff"/>
<rect x="193" y="647" width="3" height="2" fill="#00bfff"/>
<rect x="193" y="649" width="3" height="11" fill="#ff0000"/>
<rect x="193" y="666" width="3" height="3" fill="#ff0000"/>
<rect x="196" y="628" width="3" height="2" fill="#ff0000"/>
<rect x="196" y="632" width="3" height="8" fill="#ff0000"/>
<rect x="196" y="640" width="3" height="2" fill="#00bfff"/>
<rect x="196" y="642" width="3" height="14" fill="#ff0000"/>
<rect x="199" y="625" width="4" height="2" fill="#00bfff"/>
<rect x="199" y="627" width="4" height="1" fill="#ff0000"/>
<rect x="199" y="628" width="4" height="4" fill="#ffb6c1"/>
<rect x="199" y="632" width="4" height="2" fill="#ba55d3"/>
<rect x="199" y="634" width="4" height="2" fill="#ff0000"/>
<rect x="199" y="636" width="4" height="4" fill="#00bfff"/>
<rect x="199" y="640" width="4" height="13" fill="#ff0000"/>
<rect x="199" y="653" width="4" height="1" fill="#00ffff"/>
<rect x="199" y="656" width="4" height="2" fill="#ff0000"/>
<rect x="199" y="673" width="4" height="2" fill="#00bfff"/>
<rect x="208" y="621" width="4" height="2" fill="#ff0000"/>
<rect x="208" y="625" width="4" height="7" fill="#00bfff"/>
<rect x="208" y="632" width="4" height="2" fill="#ff0000"/>
<rect x="208" y="634" width="4" height="2" fill="#ffb6c1"/>
<rect x="208" y="636" width="4" height="4" fill="#ff0000"/>
<rect x="208" y="640" width="4" height="1" fill="#00bfff"/>
<rect x="208" y="645" width="4" height="6" fill="#ff0000"/>
<rect x="208" y="654" width="4" height="4" fill="#ff0000"/>
<rect x="212" y="608" width="5" height="4" fill="#ff0000"/>
<rect x="212" y="615" width="5" height="2" fill="#ff0000"/>
<rect x="212" y="617" width="5" height="2" fill="#ffb6c1"/>
<rect x="212" y="619" width="5" height="2" fill="#00bfff"/>
<rect x="212" y="621" width="5" height="2" fill="#ff0000"/>
<rect x="212" y="623" width="5" height="2" fill="#00bfff"/>
<rect x="212" y="625" width="5" height="5" fill="#00ffff"/>
<rect x="212" y="630" width="5" height="1" fill="#00bfff"/>
<rect x="212" y="631" width="5" height="7" fill="#ff0000"/>
<rect x="212" y="640" width="5" height="5" fill="#ff0000"/>
<rect x="212" y="647" width="5" height="4" fill="#ff0000"/>
<rect x="212" y="660" width="5" height="2" fill="#00bfff"/>
<rect x="212" y="671" width="5" height="2" fill="#ff0000"/>
<rect x="217" y="593" width="5" height="2" fill="#ff0000"/>
<rect x="217" y="601" width="5" height="1" fill="#00bfff"/>
<rect x="217" y="602" width="5" height="6" fill="#ff0000"/>
<rect x="217" y="608" width="5" height="2" fill="#00bfff"/>
<rect x="217" y="610" width="5" height="2" fill="#ff0000"/>
<rect x="217" y="612" width="5" height="3" fill="#00ffff"/>
<rect x="217" y="615" width="5" height="6" fill="#00bfff"/>
<rect x="217" y="621" width="5" height="2" fill="#ffb6c1"/>
<rect x="217" y="623" width="5" height="4" fill="#00bfff"/>
<rect x="217" y="627" width="5" height="5" fill="#ff0000"/>
<rect x="217" y="632" width="5" height="2" fill="#00bfff"/>
<rect x="217" y="634" width="5" height="4" fill="#ff0000"/>
<rect x="217" y="651" width="5" height="3" fill="#ff0000"/>
<rect x="226" y="643" width="6" height="6" fill="#ff0000"/>
<rect x="232" y="640" width="6" height="5" fill="#ff0000"/>
<rect x="238" y="634" width="6" height="6" fill="#ba55d3"/>
<rect x="238" y="645" width="6" height="2" fill="#ba55d3"/>
<rect x="252" y="640" width="4" height="1" fill="#ba55d3"/>
<rect x="417" y="163" width="6" height="1" fill="#ba55d3"/>
<rect x="417" y="170" width="6" height="2" fill="#ba55d3"/>
<rect x="417" y="181" width="6" height="2" fill="#ba55d3"/>
<rect x="417" y="189" width="6" height="1" fill="#ba55d3"/>
<rect x="417" y="200" width="6" height="2" fill="#ba55d3"/>
<rect x="417" y="218" width="6" height="2" fill="#ffb6c1"/>
<rect x="417" y="226" width="6" height="1" fill="#ba55d3"/>
<rect x="417" y="237" width="6" height="2" fill="#ba55d3"/>
<rect x="417" y="255" width="6" height="2" fill="#ffb6c1"/>
<rect x="417" y="274" width="6" height="2" fill="#ba55d3"/>
<rect x="417" y="292" width="6" height="2" fill="#ffb6c1"/>
<rect x="417" y="300" width="6" height="2" fill="#ba55d3"/>
<rect x="417" y="318" width="6" height="2" fill="#ba55d3"/>
<rect x="417" y="337" width="6" height="2" fill="#ba55d3"/>
<rect x="417" y="348" width="6" height="2" fill="#ba55d3"/>
<rect x="417" y="367" width="6" height="2" fill="#ba55d3"/>
<rect x="417" y="374" width="6" height="2" fill="#ba55d3"/>
<rect x="417" y="385" width="6" height="2" fill="#ba55d3"/>
<rect x="379" y="601" width="4" height="1" fill="#ffd700"/>
<rect x="383" y="612" width="4" height="2" fill="#00ffff"/>
<rect x="373" y="628" width="3" height="2" fill="#3c3cff"/>
<rect x="387" y="628" width="5" height="2" fill="#3c3cff"/>
<rect x="392" y="630" width="5" height="4" fill="#3c3cff"/>
<rect x="402" y="630" width="5" height="4" fill="#ba55d3"/>
<rect x="402" y="653" width="5" height="3" fill="#ba55d3"/>
<rect x="417" y="608" width="6" height="2" fill="#ba55d3"/>
<rect x="417" y="645" width="6" height="2" fill="#ba55d3"/>
<rect x="441" y="604" width="10" height="2" fill="#ffd700"/>
<rect x="441" y="632" width="10" height="2" fill="#00ffff"/>
<rect x="460" y="628" width="8" height="4" fill="#3c3cff"/>
<rect x="475" y="608" width="7" height="7" fill="#00ffff"/>
<rect x="475" y="619" width="7" height="2" fill="#00ffff"/>
<rect x="503" y="606" width="7" height="4" fill="#00ffff"/>
<rect x="503" y="612" width="7" height="2" fill="#00ffff"/>
<rect x="503" y="617" width="7" height="2" fill="#00ffff"/>
<rect x="503" y="630" width="7" height="2" fill="#ffd700"/>
<rect x="537" y="630" width="7" height="2" fill="#ffb6c1"/>
<rect x="564" y="630" width="7" height="2" fill="#00ffff"/>
<rect x="577" y="558" width="6" height="2" fill="#00ffff"/>
<rect x="577" y="562" width="6" height="1" fill="#ffd700"/>
<rect x="577" y="563" width="6" height="19" fill="#3c3cff"/>
<rect x="577" y="582" width="6" height="2" fill="#ffd700"/>
<rect x="577" y="584" width="6" height="2" fill="#00ffff"/>
<rect x="577" y="586" width="6" height="2" fill="#ffd700"/>
<rect x="577" y="588" width="6" height="5" fill="#00ffff"/>
<rect x="577" y="593" width="6" height="6" fill="#3c3cff"/>
<rect x="577" y="599" width="6" height="3" fill="#ba55d3"/>
<rect x="577" y="602" width="6" height="2" fill="#3c3cff"/>
<rect x="577" y="604" width="6" height="10" fill="#ffd700"/>
<rect x="577" y="614" width="6" height="24" fill="#3c3cff"/>
<rect x="577" y="638" width="6" height="7" fill="#ffd700"/>
<rect x="577" y="645" width="6" height="6" fill="#ba55d3"/>
<rect x="577" y="651" width="6" height="2" fill="#ffd700"/>
<rect x="577" y="653" width="6" height="1" fill="#3c3cff"/>
<rect x="577" y="654" width="6" height="6" fill="#ba55d3"/>
<rect x="577" y="660" width="6" height="7" fill="#ffd700"/>
<rect x="577" y="667" width="6" height="4" fill="#ba55d3"/>
<rect x="611" y="638" width="12" height="2" fill="#3c3cff"/>
<rect x="611" y="647" width="12" height="4" fill="#ba55d3"/>
<rect x="768" y="567" width="17" height="2" fill="#ffd700"/>
<rect x="768" y="606" width="17" height="2" fill="#ff0000"/>
<rect x="746" y="667" width="22" height="2" fill="#ffb6c1"/>
<rect x="746" y="166" width="22" height="2" fill="#ffd700"/>
<rect x="746" y="203" width="22" height="2" fill="#00ffff"/>
<rect x="684" y="291" width="10" height="1" fill="#ba55d3"/>
<rect x="768" y="476" width="17" height="2" fill="#ffd700"/>
<rect x="146" y="662" width="4" height="2" fill="#ba55d3"/>
<rect x="112" y="671" width="4" height="2" fill="#ff0000"/>
<rect x="112" y="673" width="4" height="2" fill="#3c3cff"/>
<rect x="112" y="675" width="4" height="2" fill="#00bfff"/>
<rect x="112" y="703" width="4" height="3" fill="#ffb6c1"/>
<rect x="131" y="703" width="3" height="2" fill="#ffb6c1"/>
<rect x="157" y="695" width="4" height="10" fill="#ffb6c1"/>
<rect x="157" y="705" width="4" height="1" fill="#00ffff"/>
<rect x="208" y="719" width="4" height="2" fill="#008000"/>
<rect x="184" y="729" width="3" height="3" fill="#ba55d3"/>
<rect x="191" y="729" width="2" height="2" fill="#ba55d3"/>
<rect x="112" y="723" width="4" height="2" fill="#00ffff"/>
<rect x="112" y="725" width="4" height="2" fill="#ff0000"/>
<rect x="112" y="727" width="4" height="7" fill="#00ffff"/>
<rect x="112" y="736" width="4" height="2" fill="#00bfff"/>
<rect x="116" y="716" width="3" height="2" fill="#00bfff"/>
<rect x="116" y="718" width="3" height="1" fill="#00ffff"/>
<rect x="116" y="719" width="3" height="2" fill="#ff0000"/>
<rect x="116" y="721" width="3" height="2" fill="#00ffff"/>
<rect x="116" y="723" width="3" height="2" fill="#ffd700"/>
<rect x="116" y="725" width="3" height="2" fill="#ffb6c1"/>
<rect x="116" y="727" width="3" height="4" fill="#ff0000"/>
<rect x="116" y="731" width="3" height="1" fill="#ffb6c1"/>
<rect x="116" y="732" width="3" height="2" fill="#ffd700"/>
<rect x="116" y="734" width="3" height="2" fill="#00ffff"/>
<rect x="116" y="736" width="3" height="2" fill="#00bfff"/>
<rect x="119" y="719" width="3" height="2" fill="#ffd700"/>
<rect x="119" y="721" width="3" height="4" fill="#00ffff"/>
<rect x="119" y="725" width="3" height="6" fill="#ffd700"/>
<rect x="119" y="731" width="3" height="3" fill="#00ffff"/>
<rect x="119" y="734" width="3" height="4" fill="#008000"/>
<rect x="122" y="723" width="2" height="2" fill="#ffb6c1"/>
<rect x="122" y="725" width="2" height="4" fill="#00ffff"/>
<rect x="126" y="719" width="2" height="2" fill="#00bfff"/>
<rect x="126" y="725" width="2" height="2" fill="#ff0000"/>
<rect x="126" y="727" width="2" height="2" fill="#ffd700"/>
<rect x="126" y="729" width="2" height="2" fill="#ff0000"/>
<rect x="128" y="718" width="3" height="1" fill="#00bfff"/>
<rect x="128" y="719" width="3" height="2" fill="#00ffff"/>
<rect x="128" y="725" width="3" height="2" fill="#00bfff"/>
<rect x="128" y="727" width="3" height="4" fill="#ff0000"/>
<rect x="128" y="732" width="3" height="2" fill="#00ffff"/>
<rect x="131" y="719" width="3" height="2" fill="#ffb6c1"/>
<rect x="131" y="721" width="3" height="6" fill="#ff0000"/>
<rect x="131" y="727" width="3" height="4" fill="#ffb6c1"/>
<rect x="134" y="723" width="3" height="2" fill="#00bfff"/>
<rect x="134" y="725" width="3" height="2" fill="#00ffff"/>
<rect x="134" y="727" width="3" height="2" fill="#ff0000"/>
<rect x="134" y="729" width="3" height="2" fill="#ffd700"/>
<rect x="134" y="734" width="3" height="2" fill="#00ffff"/>
<rect x="137" y="719" width="3" height="2" fill="#ffd700"/>
<rect x="137" y="721" width="3" height="4" fill="#00ffff"/>
<rect x="137" y="725" width="3" height="4" fill="#ffd700"/>
<rect x="137" y="729" width="3" height="2" fill="#00ffff"/>
<rect x="140" y="719" width="3" height="2" fill="#ffb6c1"/>
<rect x="140" y="721" width="3" height="4" fill="#ffd700"/>
<rect x="140" y="725" width="3" height="2" fill="#ffb6c1"/>
<rect x="140" y="727" width="3" height="4" fill="#ff0000"/>
<rect x="143" y="721" width="3" height="2" fill="#ffb6c1"/>
<rect x="143" y="723" width="3" height="2" fill="#ff0000"/>
<rect x="150" y="719" width="4" height="6" fill="#ffb6c1"/>
<rect x="150" y="725" width="4" height="4" fill="#ff0000"/>
<rect x="150" y="734" width="4" height="4" fill="#00ffff"/>
<rect x="154" y="716" width="3" height="2" fill="#00bfff"/>
<rect x="154" y="718" width="3" height="1" fill="#ff0000"/>
<rect x="154" y="719" width="3" height="2" fill="#ffb6c1"/>
<rect x="154" y="721" width="3" height="4" fill="#ff0000"/>
<rect x="154" y="725" width="3" height="2" fill="#ffb6c1"/>
<rect x="157" y="706" width="4" height="2" fill="#ffd700"/>
<rect x="157" y="708" width="4" height="2" fill="#00ffff"/>
<rect x="157" y="710" width="4" height="6" fill="#ffd700"/>
<rect x="157" y="716" width="4" height="3" fill="#00ffff"/>
<rect x="157" y="719" width="4" height="2" fill="#ffb6c1"/>
<rect x="157" y="721" width="4" height="2" fill="#00ffff"/>
<rect x="157" y="723" width="4" height="2" fill="#ffb6c1"/>
<rect x="157" y="725" width="4" height="2" fill="#ff0000"/>
<rect x="161" y="716" width="3" height="2" fill="#00ffff"/>
<rect x="161" y="718" width="3" height="1" fill="#ff0000"/>
<rect x="161" y="719" width="3" height="2" fill="#00bfff"/>
<rect x="161" y="721" width="3" height="2" fill="#ba55d3"/>
<rect x="161" y="723" width="3" height="2" fill="#ff0000"/>
<rect x="161" y="725" width="3" height="2" fill="#ffb6c1"/>
<rect x="164" y="714" width="3" height="2" fill="#00bfff"/>
<rect x="164" y="716" width="3" height="2" fill="#ffb6c1"/>
<rect x="164" y="718" width="3" height="1" fill="#ff0000"/>
<rect x="164" y="719" width="3" height="2" fill="#ffd700"/>
<rect x="164" y="721" width="3" height="2" fill="#00bfff"/>
<rect x="164" y="723" width="3" height="2" fill="#ff0000"/>
<rect x="167" y="716" width="2" height="2" fill="#ffb6c1"/>
<rect x="167" y="718" width="2" height="7" fill="#ff0000"/>
<rect x="169" y="716" width="3" height="2" fill="#00ffff"/>
<rect x="169" y="718" width="3" height="5" fill="#ff0000"/>
<rect x="169" y="723" width="3" height="2" fill="#00bfff"/>
<rect x="172" y="718" width="2" height="1" fill="#ff0000"/>
<rect x="172" y="719" width="2" height="4" fill="#ba55d3"/>
<rect x="174" y="712" width="3" height="4" fill="#ff0000"/>
<rect x="174" y="719" width="3" height="2" fill="#00bfff"/>
<rect x="174" y="721" width="3" height="2" fill="#ff0000"/>
<rect x="222" y="695" width="4" height="2" fill="#00bfff"/>
<rect x="226" y="693" width="6" height="2" fill="#ba55d3"/>
<rect x="226" y="695" width="6" height="4" fill="#3c3cff"/>
<rect x="226" y="699" width="6" height="4" fill="#ff0000"/>
<rect x="226" y="703" width="6" height="2" fill="#ba55d3"/>
<rect x="238" y="690" width="6" height="3" fill="#3c3cff"/>
<rect x="248" y="692" width="4" height="5" fill="#3c3cff"/>
<rect x="252" y="693" width="4" height="2" fill="#3c3cff"/>
<rect x="256" y="693" width="4" height="2" fill="#ba55d3"/>
<rect x="260" y="692" width="5" height="2" fill="#00bfff"/>
<rect x="260" y="694" width="5" height="1" fill="#3c3cff"/>
<rect x="256" y="695" width="4" height="3" fill="#3c3cff"/>
<rect x="260" y="697" width="9" height="2" fill="#3c3cff"/>
<rect x="269" y="693" width="4" height="4" fill="#3c3cff"/>
<rect x="273" y="695" width="4" height="1" fill="#3c3cff"/>
<rect x="277" y="692" width="3" height="3" fill="#3c3cff"/>
<rect x="277" y="697" width="3" height="2" fill="#3c3cff"/>
<rect x="294" y="697" width="3" height="2" fill="#3c3cff"/>
<rect x="319" y="697" width="4" height="2" fill="#3c3cff"/>
<rect x="232" y="703" width="24" height="2" fill="#3c3cff"/>
<rect x="238" y="701" width="6" height="2" fill="#3c3cff"/>
<rect x="244" y="699" width="4" height="4" fill="#3c3cff"/>
<rect x="248" y="701" width="8" height="2" fill="#3c3cff"/>
<rect x="244" y="703" width="4" height="2" fill="#ba55d3"/>
<rect x="252" y="699" width="4" height="2" fill="#ba55d3"/>
<rect x="256" y="703" width="68" height="3" fill="#3c3cff"/>
<rect x="260" y="701" width="13" height="2" fill="#3c3cff"/>
<rect x="260" y="701" width="5" height="2" fill="#ba55d3"/>
<rect x="269" y="699" width="4" height="2" fill="#3c3cff"/>
<rect x="269" y="705" width="4" height="1" fill="#ba55d3"/>
<rect x="273" y="703" width="7" height="2" fill="#ba55d3"/>
<rect x="277" y="701" width="34" height="2" fill="#3c3cff"/>
<rect x="287" y="701" width="4" height="2" fill="#ba55d3"/>
<rect x="319" y="701" width="4" height="2" fill="#00ffff"/>
<rect x="324" y="699" width="4" height="4" fill="#3c3cff"/>
<rect x="324" y="705" width="4" height="1" fill="#3c3cff"/>
<rect x="328" y="697" width="4" height="1" fill="#3c3cff"/>
<rect x="328" y="698" width="4" height="3" fill="#00ffff"/>
<rect x="328" y="701" width="4" height="2" fill="#ffd700"/>
<rect x="212" y="716" width="5" height="5" fill="#008000"/>
<rect x="379" y="732" width="4" height="2" fill="#ffd700"/>
<rect x="383" y="729" width="4" height="3" fill="#3c3cff"/>
<rect x="387" y="732" width="5" height="2" fill="#3c3cff"/>
<rect x="265" y="729" width="4" height="2" fill="#ba55d3"/>
<rect x="284" y="729" width="3" height="2" fill="#008000"/>
<rect x="328" y="697" width="7" height="2" fill="#3c3cff"/>
<rect x="326" y="699" width="2" height="4" fill="#3c3cff"/>
<rect x="328" y="699" width="7" height="2" fill="#00ffff"/>
<rect x="328" y="701" width="7" height="2" fill="#ffd700"/>
<rect x="326" y="705" width="2" height="1" fill="#3c3cff"/>
<rect x="335" y="692" width="8" height="1" fill="#3c3cff"/>
<rect x="335" y="699" width="21" height="7" fill="#3c3cff"/>
<rect x="343" y="695" width="7" height="4" fill="#3c3cff"/>
<rect x="350" y="688" width="6" height="2" fill="#3c3cff"/>
<rect x="356" y="688" width="5" height="2" fill="#00bfff"/>
<rect x="350" y="697" width="6" height="2" fill="#3c3cff"/>
<rect x="350" y="693" width="6" height="2" fill="#00ffff"/>
<rect x="343" y="701" width="7" height="2" fill="#00bfff"/>
<rect x="350" y="701" width="6" height="2" fill="#ba55d3"/>
<rect x="356" y="695" width="5" height="2" fill="#00bfff"/>
<rect x="356" y="697" width="5" height="2" fill="#3c3cff"/>
<rect x="356" y="701" width="5" height="2" fill="#00bfff"/>
<rect x="356" y="703" width="5" height="3" fill="#3c3cff"/>
<rect x="361" y="690" width="4" height="2" fill="#3c3cff"/>
<rect x="361" y="695" width="4" height="11" fill="#3c3cff"/>
<rect x="361" y="701" width="4" height="2" fill="#ba55d3"/>
<rect x="365" y="688" width="11" height="2" fill="#3c3cff"/>
<rect x="365" y="693" width="4" height="2" fill="#3c3cff"/>
<rect x="365" y="699" width="4" height="7" fill="#3c3cff"/>
<rect x="365" y="701" width="4" height="2" fill="#00bfff"/>
<rect x="369" y="690" width="4" height="2" fill="#00bfff"/>
<rect x="369" y="697" width="4" height="2" fill="#00bfff"/>
<rect x="369" y="699" width="4" height="7" fill="#3c3cff"/>
<rect x="373" y="690" width="3" height="2" fill="#ba55d3"/>
<rect x="373" y="695" width="3" height="2" fill="#ba55d3"/>
<rect x="373" y="697" width="3" height="9" fill="#3c3cff"/>
<rect x="373" y="701" width="3" height="2" fill="#00bfff"/>
<rect x="376" y="690" width="3" height="16" fill="#3c3cff"/>
<rect x="376" y="695" width="3" height="2" fill="#ffffff"/>
<rect x="376" y="703" width="7" height="2" fill="#ba55d3"/>
<rect x="379" y="688" width="4" height="2" fill="#3c3cff"/>
<rect x="379" y="693" width="4" height="2" fill="#ba55d3"/>
<rect x="379" y="697" width="4" height="2" fill="#00bfff"/>
<rect x="379" y="699" width="4" height="4" fill="#3c3cff"/>
<rect x="379" y="705" width="4" height="1" fill="#3c3cff"/>
<rect x="383" y="686" width="14" height="20" fill="#3c3cff"/>
<rect x="383" y="688" width="4" height="2" fill="#00bfff"/>
<rect x="387" y="688" width="5" height="2" fill="#ffffff"/>
<rect x="387" y="690" width="5" height="2" fill="#00bfff"/>
<rect x="383" y="690" width="4" height="3" fill="#ffffff"/>
<rect x="383" y="695" width="4" height="2" fill="#00bfff"/>
<rect x="387" y="684" width="5" height="2" fill="#ba55d3"/>
<rect x="392" y="695" width="5" height="2" fill="#00ffff"/>
<rect x="392" y="703" width="5" height="2" fill="#ba55d3"/>
<rect x="392" y="706" width="5" height="2" fill="#ba55d3"/>
<rect x="397" y="697" width="5" height="4" fill="#00bfff"/>
<rect x="402" y="690" width="5" height="2" fill="#00ffff"/>
<rect x="402" y="693" width="5" height="15" fill="#3c3cff"/>
<rect x="402" y="695" width="5" height="2" fill="#ba55d3"/>
<rect x="402" y="701" width="5" height="2" fill="#ba55d3"/>
<rect x="407" y="693" width="5" height="2" fill="#00ffff"/>
<rect x="407" y="695" width="5" height="2" fill="#3c3cff"/>
<rect x="412" y="697" width="3" height="6" fill="#3c3cff"/>
<rect x="412" y="703" width="3" height="3" fill="#ffd700"/>
<rect x="387" y="710" width="5" height="4" fill="#ba55d3"/>
<rect x="383" y="718" width="4" height="1" fill="#3c3cff"/>
<rect x="410" y="693" width="2" height="4" fill="#00ffff"/>
<rect x="412" y="697" width="5" height="2" fill="#3c3cff"/>
<rect x="412" y="699" width="5" height="4" fill="#00ffff"/>
<rect x="412" y="703" width="11" height="3" fill="#ffd700"/>
<rect x="417" y="690" width="6" height="13" fill="#00ffff"/>
<rect x="423" y="688" width="8" height="5" fill="#00ffff"/>
<rect x="423" y="693" width="8" height="6" fill="#ffd700"/>
<rect x="423" y="699" width="8" height="2" fill="#00ffff"/>
<rect x="423" y="701" width="8" height="2" fill="#ffd700"/>
<rect x="423" y="703" width="8" height="3" fill="#3c3cff"/>
<rect x="431" y="684" width="10" height="2" fill="#ffd700"/>
<rect x="431" y="690" width="10" height="3" fill="#3c3cff"/>
<rect x="431" y="693" width="20" height="2" fill="#00ffff"/>
<rect x="441" y="692" width="10" height="1" fill="#3c3cff"/>
<rect x="431" y="695" width="10" height="2" fill="#3c3cff"/>
<rect x="431" y="697" width="10" height="2" fill="#ffd700"/>
<rect x="441" y="695" width="10" height="4" fill="#3c3cff"/>
<rect x="431" y="699" width="10" height="2" fill="#3c3cff"/>
<rect x="431" y="701" width="10" height="2" fill="#00ffff"/>
<rect x="441" y="699" width="19" height="4" fill="#00ffff"/>
<rect x="431" y="705" width="10" height="1" fill="#3c3cff"/>
<rect x="441" y="703" width="10" height="2" fill="#ffd700"/>
<rect x="441" y="705" width="10" height="1" fill="#3c3cff"/>
<rect x="451" y="701" width="9" height="2" fill="#ffffff"/>
<rect x="451" y="703" width="9" height="3" fill="#3c3cff"/>
<rect x="460" y="695" width="8" height="2" fill="#3c3cff"/>
<rect x="460" y="697" width="8" height="6" fill="#00ffff"/>
<rect x="460" y="703" width="8" height="5" fill="#3c3cff"/>
<rect x="460" y="712" width="8" height="4" fill="#00ffff"/>
<rect x="475" y="695" width="7" height="8" fill="#00ffff"/>
<rect x="475" y="703" width="7" height="2" fill="#ffd700"/>
<rect x="475" y="705" width="7" height="1" fill="#00ffff"/>
<rect x="482" y="699" width="7" height="2" fill="#00ffff"/>
<rect x="489" y="695" width="4" height="2" fill="#ffd700"/>
<rect x="489" y="697" width="4" height="4" fill="#00ffff"/>
<rect x="493" y="697" width="5" height="2" fill="#ffd700"/>
<rect x="493" y="699" width="5" height="2" fill="#00ffff"/>
<rect x="493" y="703" width="5" height="2" fill="#ffd700"/>
<rect x="493" y="705" width="5" height="1" fill="#3c3cff"/>
<rect x="498" y="699" width="5" height="2" fill="#ffb6c1"/>
<rect x="503" y="697" width="21" height="8" fill="#00ffff"/>
<rect x="503" y="701" width="7" height="2" fill="#3c3cff"/>
<rect x="510" y="703" width="7" height="2" fill="#3c3cff"/>
<rect x="503" y="705" width="14" height="1" fill="#ffd700"/>
<rect x="503" y="706" width="7" height="2" fill="#ba55d3"/>
<rect x="517" y="705" width="7" height="1" fill="#ba55d3"/>
<rect x="520" y="697" width="4" height="8" fill="#00ffff"/>
<rect x="520" y="705" width="4" height="1" fill="#ba55d3"/>
<rect x="530" y="697" width="7" height="4" fill="#00ffff"/>
<rect x="530" y="701" width="7" height="2" fill="#ffb6c1"/>
<rect x="530" y="703" width="7" height="3" fill="#ffd700"/>
<rect x="537" y="695" width="7" height="10" fill="#00ffff"/>
<rect x="537" y="705" width="7" height="1" fill="#ffd700"/>
<rect x="544" y="697" width="7" height="4" fill="#00ffff"/>
<rect x="544" y="701" width="7" height="2" fill="#008000"/>
<rect x="551" y="695" width="6" height="2" fill="#ffd700"/>
<rect x="551" y="697" width="6" height="2" fill="#ffb6c1"/>
<rect x="551" y="699" width="6" height="4" fill="#00ffff"/>
<rect x="557" y="695" width="7" height="2" fill="#3c3cff"/>
<rect x="557" y="697" width="7" height="6" fill="#00ffff"/>
<rect x="564" y="697" width="7" height="6" fill="#ffb6c1"/>
<rect x="571" y="695" width="6" height="2" fill="#ffd700"/>
<rect x="571" y="697" width="6" height="2" fill="#ffb6c1"/>
<rect x="571" y="699" width="6" height="4" fill="#00ffff"/>
<rect x="577" y="686" width="6" height="4" fill="#ba55d3"/>
<rect x="577" y="690" width="6" height="2" fill="#3c3cff"/>
<rect x="577" y="692" width="6" height="1" fill="#00ffff"/>
<rect x="577" y="693" width="6" height="4" fill="#ba55d3"/>
<rect x="577" y="697" width="6" height="4" fill="#ffd700"/>
<rect x="577" y="701" width="6" height="2" fill="#00ffff"/>
<rect x="577" y="703" width="6" height="3" fill="#3c3cff"/>
<rect x="577" y="706" width="6" height="2" fill="#ffd700"/>
<rect x="577" y="708" width="6" height="8" fill="#ba55d3"/>
<rect x="583" y="697" width="6" height="2" fill="#ffd700"/>
<rect x="583" y="699" width="6" height="2" fill="#00ffff"/>
<rect x="589" y="697" width="8" height="6" fill="#00ffff"/>
<rect x="611" y="686" width="12" height="6" fill="#ba55d3"/>
<rect x="611" y="693" width="12" height="4" fill="#3c3cff"/>
<rect x="611" y="697" width="12" height="2" fill="#ba55d3"/>
<rect x="611" y="699" width="12" height="2" fill="#ffb6c1"/>
<rect x="611" y="701" width="12" height="4" fill="#ba55d3"/>
<rect x="611" y="705" width="12" height="1" fill="#3c3cff"/>
<rect x="611" y="706" width="12" height="2" fill="#ba55d3"/>
<rect x="611" y="708" width="12" height="2" fill="#3c3cff"/>
<rect x="611" y="710" width="12" height="4" fill="#ba55d3"/>
<rect x="611" y="714" width="12" height="2" fill="#3c3cff"/>
<rect x="611" y="716" width="12" height="3" fill="#ba55d3"/>
<rect x="611" y="719" width="12" height="2" fill="#3c3cff"/>
<rect x="611" y="721" width="12" height="4" fill="#ba55d3"/>
<rect x="611" y="725" width="12" height="4" fill="#3c3cff"/>
<rect x="611" y="729" width="12" height="5" fill="#ba55d3"/>
<rect x="611" y="734" width="12" height="2" fill="#3c3cff"/>
<rect x="611" y="736" width="12" height="2" fill="#ba55d3"/>
<rect x="623" y="697" width="50" height="6" fill="#ffb6c1"/>
<rect x="637" y="695" width="13" height="2" fill="#ffb6c1"/>
<rect x="637" y="693" width="13" height="2" fill="#ff0000"/>
<rect x="650" y="692" width="11" height="3" fill="#ff0000"/>
<rect x="650" y="695" width="11" height="2" fill="#ffb6c1"/>
<rect x="650" y="697" width="11" height="2" fill="#ff0000"/>
<rect x="650" y="699" width="11" height="2" fill="#008000"/>
<rect x="661" y="695" width="12" height="2" fill="#ff0000"/>
<rect x="694" y="695" width="11" height="6" fill="#008000"/>
<rect x="705" y="697" width="12" height="6" fill="#008000"/>
<rect x="717" y="697" width="13" height="4" fill="#008000"/>
<rect x="746" y="677" width="22" height="2" fill="#ba55d3"/>
<rect x="746" y="679" width="22" height="1" fill="#ffd700"/>
<rect x="746" y="697" width="22" height="4" fill="#ff0000"/>
<rect x="746" y="701" width="22" height="2" fill="#00ffff"/>
</g>
<g stroke="#b0b0b0" stroke-width="1.1" fill="none">
<line x1="138.50" y1="100.5" x2="138.50" y2="793.5"/>
<line x1="230.50" y1="100.5" x2="230.50" y2="793.5"/>
<line x1="323.50" y1="100.5" x2="323.50" y2="793.5"/>
<line x1="415.50" y1="100.5" x2="415.50" y2="793.5"/>
<line x1="508.50" y1="100.5" x2="508.50" y2="793.5"/>
<line x1="600.50" y1="100.5" x2="600.50" y2="793.5"/>
<line x1="692.50" y1="100.5" x2="692.50" y2="793.5"/>
<line x1="785.50" y1="100.5" x2="785.50" y2="793.5"/>
<line x1="92.5" y1="793.50" x2="785.5" y2="793.50"/>
<line x1="92.5" y1="669.50" x2="785.5" y2="669.50"/>
<line x1="92.5" y1="545.50" x2="785.5" y2="545.50"/>
<line x1="92.5" y1="421.50" x2="785.5" y2="421.50"/>
<line x1="92.5" y1="298.50" x2="785.5" y2="298.50"/>
<line x1="92.5" y1="174.50" x2="785.5" y2="174.50"/>
</g>
<g stroke="#000" stroke-width="1.1" fill="none">
<line x1="92.50" y1="793.5" x2="92.50" y2="796.30" stroke-width="0.85"/>
<line x1="115.50" y1="793.5" x2="115.50" y2="796.30" stroke-width="0.85"/>
<line x1="138.50" y1="793.5" x2="138.50" y2="798.40" stroke-width="1.1"/>
<line x1="161.50" y1="793.5" x2="161.50" y2="796.30" stroke-width="0.85"/>
<line x1="184.50" y1="793.5" x2="184.50" y2="796.30" stroke-width="0.85"/>
<line x1="207.50" y1="793.5" x2="207.50" y2="796.30" stroke-width="0.85"/>
<line x1="230.50" y1="793.5" x2="230.50" y2="798.40" stroke-width="1.1"/>
<line x1="253.50" y1="793.5" x2="253.50" y2="796.30" stroke-width="0.85"/>
<line x1="277.50" y1="793.5" x2="277.50" y2="796.30" stroke-width="0.85"/>
<line x1="300.50" y1="793.5" x2="300.50" y2="796.30" stroke-width="0.85"/>
<line x1="323.50" y1="793.5" x2="323.50" y2="798.40" stroke-width="1.1"/>
<line x1="346.50" y1="793.5" x2="346.50" y2="796.30" stroke-width="0.85"/>
<line x1="369.50" y1="793.5" x2="369.50" y2="796.30" stroke-width="0.85"/>
<line x1="392.50" y1="793.5" x2="392.50" y2="796.30" stroke-width="0.85"/>
<line x1="415.50" y1="793.5" x2="415.50" y2="798.40" stroke-width="1.1"/>
<line x1="438.50" y1="793.5" x2="438.50" y2="796.30" stroke-width="0.85"/>
<line x1="461.50" y1="793.5" x2="461.50" y2="796.30" stroke-width="0.85"/>
<line x1="484.50" y1="793.5" x2="484.50" y2="796.30" stroke-width="0.85"/>
<line x1="508.50" y1="793.5" x2="508.50" y2="798.40" stroke-width="1.1"/>
<line x1="531.50" y1="793.5" x2="531.50" y2="796.30" stroke-width="0.85"/>
<line x1="554.50" y1="793.5" x2="554.50" y2="796.30" stroke-width="0.85"/>
<line x1="577.50" y1="793.5" x2="577.50" y2="796.30" stroke-width="0.85"/>
<line x1="600.50" y1="793.5" x2="600.50" y2="798.40" stroke-width="1.1"/>
<line x1="623.50" y1="793.5" x2="623.50" y2="796.30" stroke-width="0.85"/>
<line x1="646.50" y1="793.5" x2="646.50" y2="796.30" stroke-width="0.85"/>
<line x1="669.50" y1="793.5" x2="669.50" y2="796.30" stroke-width="0.85"/>
<line x1="692.50" y1="793.5" x2="692.50" y2="798.40" stroke-width="1.1"/>
<line x1="715.50" y1="793.5" x2="715.50" y2="796.30" stroke-width="0.85"/>
<line x1="739.50" y1="793.5" x2="739.50" y2="796.30" stroke-width="0.85"/>
<line x1="762.50" y1="793.5" x2="762.50" y2="796.30" stroke-width="0.85"/>
<line x1="785.50" y1="793.5" x2="785.50" y2="798.40" stroke-width="1.1"/>
<line x1="92.5" y1="793.50" x2="87.60" y2="793.50" stroke-width="1.1"/>
<line x1="92.5" y1="762.50" x2="89.70" y2="762.50" stroke-width="0.85"/>
<line x1="92.5" y1="731.50" x2="89.70" y2="731.50" stroke-width="0.85"/>
<line x1="92.5" y1="700.50" x2="89.70" y2="700.50" stroke-width="0.85"/>
<line x1="92.5" y1="669.50" x2="87.60" y2="669.50" stroke-width="1.1"/>
<line x1="92.5" y1="638.50" x2="89.70" y2="638.50" stroke-width="0.85"/>
<line x1="92.5" y1="607.50" x2="89.70" y2="607.50" stroke-width="0.85"/>
<line x1="92.5" y1="576.50" x2="89.70" y2="576.50" stroke-width="0.85"/>
<line x1="92.5" y1="545.50" x2="87.60" y2="545.50" stroke-width="1.1"/>
<line x1="92.5" y1="514.50" x2="89.70" y2="514.50" stroke-width="0.85"/>
<line x1="92.5" y1="483.50" x2="89.70" y2="483.50" stroke-width="0.85"/>
<line x1="92.5" y1="452.50" x2="89.70" y2="452.50" stroke-width="0.85"/>
<line x1="92.5" y1="421.50" x2="87.60" y2="421.50" stroke-width="1.1"/>
<line x1="92.5" y1="390.50" x2="89.70" y2="390.50" stroke-width="0.85"/>
<line x1="92.5" y1="360.50" x2="89.70" y2="360.50" stroke-width="0.85"/>
<line x1="92.5" y1="329.50" x2="89.70" y2="329.50" stroke-width="0.85"/>
<line x1="92.5" y1="298.50" x2="87.60" y2="298.50" stroke-width="1.1"/>
<line x1="92.5" y1="267.50" x2="89.70" y2="267.50" stroke-width="0.85"/>
<line x1="92.5" y1="236.50" x2="89.70" y2="236.50" stroke-width="0.85"/>
<line x1="92.5" y1="205.50" x2="89.70" y2="205.50" stroke-width="0.85"/>
<line x1="92.5" y1="174.50" x2="87.60" y2="174.50" stroke-width="1.1"/>
<line x1="92.5" y1="143.50" x2="89.70" y2="143.50" stroke-width="0.85"/>
<line x1="92.5" y1="112.50" x2="89.70" y2="112.50" stroke-width="0.85"/>
</g>
<rect x="92.5" y="100.5" width="693.00" height="693.00" fill="none" stroke="#000" stroke-width="1.1"/>
<g opacity="0.999">
<text transform="translate(153.83,32.00) scale(0.9856,1)" font-size="29.8" stroke="#000" stroke-width="0.45">NAL</text>
<text transform="translate(219.69,32.00) scale(0.9948,1)" font-size="29.8" stroke="#000" stroke-width="0.45">CADI</text>
<text transform="translate(299.55,32.00) scale(1.0615,1)" font-size="29.8" stroke="#000" stroke-width="0.45">-</text>
<text transform="translate(317.34,32.00) scale(0.9683,1)" font-size="29.8" stroke="#000" stroke-width="0.45">Jun</text>
<text transform="translate(374.81,32.00) scale(1.1021,1)" font-size="29.8" stroke="#000" stroke-width="0.45">11</text>
<text transform="translate(419.99,32.00) scale(1.0875,1)" font-size="29.8" stroke="#000" stroke-width="0.45">16:00:00</text>
<text transform="translate(558.46,32.00) scale(1.0837,1)" font-size="29.8" stroke="#000" stroke-width="0.45">2025</text>
<text transform="translate(641.00,32.00) scale(0.9297,1)" font-size="29.8" stroke="#000" stroke-width="0.45">UTC</text>
<text transform="translate(337.31,842.00) scale(1.0178,1)" font-size="25.4" stroke="#000" stroke-width="0.45">Frequency</text>
<text transform="translate(469.16,842.00) scale(0.9971,1)" font-size="25.4" stroke="#000" stroke-width="0.45">(MHz)</text>
<text transform="translate(28.00,559.56) rotate(-90) scale(1.0678,1)" font-size="25.4" stroke="#000" stroke-width="0.45">Virtual</text>
<text transform="translate(28.00,473.15) rotate(-90) scale(1.0799,1)" font-size="25.4" stroke="#000" stroke-width="0.45">height</text>
<text transform="translate(28.00,389.77) rotate(-90) scale(1.0803,1)" font-size="25.4" stroke="#000" stroke-width="0.45">(km)</text>
<text transform="translate(134.05,815.00) scale(0.9465,1)" font-size="16.95" stroke="#000" stroke-width="0.3">2</text>
<text transform="translate(226.38,815.00) scale(1.0973,1)" font-size="16.95" stroke="#000" stroke-width="0.3">4</text>
<text transform="translate(318.95,815.00) scale(1.0645,1)" font-size="16.95" stroke="#000" stroke-width="0.3">6</text>
<text transform="translate(411.06,815.00) scale(1.0419,1)" font-size="16.95" stroke="#000" stroke-width="0.3">8</text>
<text transform="translate(499.63,815.00) scale(0.9617,1)" font-size="16.95" stroke="#000" stroke-width="0.3">10</text>
<text transform="translate(591.61,815.00) scale(0.9763,1)" font-size="16.95" stroke="#000" stroke-width="0.3">12</text>
<text transform="translate(683.57,815.00) scale(1.0105,1)" font-size="16.95" stroke="#000" stroke-width="0.3">14</text>
<text transform="translate(776.62,815.00) scale(0.9665,1)" font-size="16.95" stroke="#000" stroke-width="0.3">16</text>
<text transform="translate(72.15,799.00) scale(1.0309,1)" font-size="16.95" stroke="#000" stroke-width="0.3">0</text>
<text transform="translate(50.95,675.00) scale(1.0567,1)" font-size="16.95" stroke="#000" stroke-width="0.3">200</text>
<text transform="translate(50.39,551.00) scale(1.0770,1)" font-size="16.95" stroke="#000" stroke-width="0.3">400</text>
<text transform="translate(50.95,427.00) scale(1.0567,1)" font-size="16.95" stroke="#000" stroke-width="0.3">600</text>
<text transform="translate(51.05,304.00) scale(1.0534,1)" font-size="16.95" stroke="#000" stroke-width="0.3">800</text>
<text transform="translate(41.52,180.00) scale(1.0429,1)" font-size="16.95" stroke="#000" stroke-width="0.3">1000</text>
<g shape-rendering="crispEdges">
<rect x="816.5" y="82.40" width="30.00" height="90.49" fill="#00bfff"/>
<rect x="816.5" y="172.39" width="30.00" height="90.49" fill="#00ffff"/>
<rect x="816.5" y="262.38" width="30.00" height="90.49" fill="#ffd700"/>
<rect x="816.5" y="352.36" width="30.00" height="90.49" fill="#ffb6c1"/>
<rect x="816.5" y="442.35" width="30.00" height="90.49" fill="#ba55d3"/>
<rect x="816.5" y="532.34" width="30.00" height="90.49" fill="#3c3cff"/>
<rect x="816.5" y="622.32" width="30.00" height="90.49" fill="#ff0000"/>
<rect x="816.5" y="712.31" width="30.00" height="90.49" fill="#008000"/>
</g>
<rect x="816.5" y="82.4" width="30.00" height="719.90" fill="none" stroke="#000" stroke-width="1.1"/>
<g stroke="#000" fill="none">
<line x1="846.5" y1="82.40" x2="849.30" y2="82.40" stroke-width="0.85"/>
<line x1="846.5" y1="172.39" x2="849.30" y2="172.39" stroke-width="0.85"/>
<line x1="846.5" y1="262.38" x2="849.30" y2="262.38" stroke-width="0.85"/>
<line x1="846.5" y1="352.36" x2="849.30" y2="352.36" stroke-width="0.85"/>
<line x1="846.5" y1="442.35" x2="849.30" y2="442.35" stroke-width="0.85"/>
<line x1="846.5" y1="532.34" x2="849.30" y2="532.34" stroke-width="0.85"/>
<line x1="846.5" y1="622.32" x2="849.30" y2="622.32" stroke-width="0.85"/>
<line x1="846.5" y1="712.31" x2="849.30" y2="712.31" stroke-width="0.85"/>
<line x1="846.5" y1="802.30" x2="849.30" y2="802.30" stroke-width="0.85"/>
<line x1="846.5" y1="127.39" x2="851.40" y2="127.39" stroke-width="1.1"/>
<line x1="846.5" y1="217.38" x2="851.40" y2="217.38" stroke-width="1.1"/>
<line x1="846.5" y1="307.37" x2="851.40" y2="307.37" stroke-width="1.1"/>
<line x1="846.5" y1="397.36" x2="851.40" y2="397.36" stroke-width="1.1"/>
<line x1="846.5" y1="487.34" x2="851.40" y2="487.34" stroke-width="1.1"/>
<line x1="846.5" y1="577.33" x2="851.40" y2="577.33" stroke-width="1.1"/>
<line x1="846.5" y1="667.32" x2="851.40" y2="667.32" stroke-width="1.1"/>
<line x1="846.5" y1="757.31" x2="851.40" y2="757.31" stroke-width="1.1"/>
</g>
<text transform="translate(856.65,133.00) scale(0.9576,1)" font-size="16.95" stroke="#000" stroke-width="0.3">NNE</text>
<text transform="translate(856.73,223.00) scale(0.8985,1)" font-size="16.95" stroke="#000" stroke-width="0.3">E</text>
<text transform="translate(856.28,313.00) scale(0.8719,1)" font-size="16.95" stroke="#000" stroke-width="0.3">SSE</text>
<text transform="translate(856.26,403.00) scale(0.9074,1)" font-size="16.95" stroke="#000" stroke-width="0.3">SSW</text>
<text transform="translate(856.87,493.00) scale(0.9654,1)" font-size="16.95" stroke="#000" stroke-width="0.3">W</text>
<text transform="translate(856.62,583.00) scale(0.9803,1)" font-size="16.95" stroke="#000" stroke-width="0.3">NNW</text>
<text transform="translate(855.86,673.00) scale(1.0899,1)" font-size="16.95" stroke="#000" stroke-width="0.3">Vertical</text>
<text transform="translate(855.50,763.00) scale(1.0544,1)" font-size="16.95" stroke="#000" stroke-width="0.3">X-mode</text>
<text transform="translate(943.00,548.96) rotate(-90) scale(1.0643,1)" font-size="25.4" stroke="#000" stroke-width="0.45">Azimuth</text>
<text transform="translate(943.00,443.18) rotate(-90) scale(1.0832,1)" font-size="25.4" stroke="#000" stroke-width="0.45">Direction</text>
</g>
</svg></body></html>
